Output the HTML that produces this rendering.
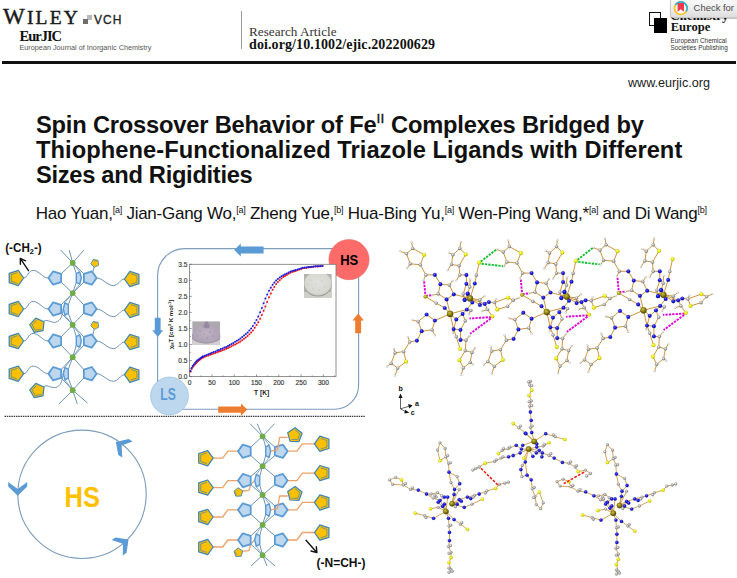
<!DOCTYPE html>
<html lang="en">
<head>
<meta charset="utf-8">
<title>Spin Crossover Behavior of Fe(II) Complexes</title>
<style>
html,body{margin:0;padding:0;background:#fff;}
body{width:737px;height:578px;position:relative;overflow:hidden;font-family:"Liberation Sans",sans-serif;color:#111;}
.abs{position:absolute;white-space:nowrap;line-height:1;}
.serif{font-family:"Liberation Serif",serif;}
#wiley{left:3px;top:4.5px;font-size:19.5px;letter-spacing:2.2px;color:#1a1a1a;-webkit-text-stroke:0.45px #1a1a1a;}
#wiley .w{font-size:23px;}
#sq1{left:87px;top:15px;width:5px;height:5px;background:#b9b9b9;}
#sq2{left:82.5px;top:19px;width:5px;height:5px;background:#6e6e6e;}
#vch{left:94px;top:13.5px;font-size:12px;letter-spacing:1px;color:#222;-webkit-text-stroke:0.3px #222;}
#eurjic{left:19.5px;top:28.5px;font-size:14.5px;letter-spacing:-1.0px;font-weight:bold;color:#111;}
#ejfull{left:19.5px;top:44px;font-size:7.25px;color:#555;}
#rule{left:2px;top:61.2px;width:734px;height:3px;background:#111;}
#vdiv{left:240.5px;top:11px;width:1.3px;height:38px;background:#9a9a9a;}
#ra{left:249px;top:24.5px;font-size:13.2px;color:#333;}
#doi{left:249px;top:38.2px;font-size:14px;letter-spacing:0.1px;font-weight:bold;color:#111;}
#www{left:628px;top:77px;font-size:12.6px;color:#222;}
#title{left:36px;top:112.8px;font-size:23.7px;line-height:25px;font-weight:bold;color:#111;white-space:nowrap;}
#title sup{font-size:13.7px;line-height:0;vertical-align:9.8px;font-weight:normal;-webkit-text-stroke:0.35px #111;letter-spacing:0.3px;}
#authors{left:35.8px;top:204.5px;font-size:17px;letter-spacing:-0.25px;color:#111;}
#authors sup{font-size:9px;line-height:0;vertical-align:6.5px;}

#ce1{left:648.5px;top:12px;width:10.5px;height:12px;border:1.6px solid #111;background:#fff;}
#ce2{left:654px;top:18px;width:12.5px;height:15px;background:#000;}
#chem{left:670.5px;top:9.5px;font-size:12.6px;font-weight:bold;letter-spacing:0.15px;color:#111;}
#europe{left:670.7px;top:21.2px;font-size:12.6px;font-weight:bold;letter-spacing:0px;color:#111;}
#ecs1{left:670.5px;top:37.5px;font-size:6.4px;color:#333;}
#ecs2{left:670.5px;top:44.5px;font-size:6.4px;color:#333;}
#badge{left:670px;top:-2px;width:70px;height:19.8px;background:linear-gradient(#f7f7f7 20%,#dedede);border:1px solid #c9c9c9;border-radius:3px;box-sizing:border-box;box-shadow:0 0.5px 1px rgba(0,0,0,0.25);}
#badgetxt{left:693.6px;top:2.8px;font-size:9.45px;color:#4d4d4d;}
</style>
</head>
<body>
<div class="abs serif" id="wiley"><span class="w">W</span>ILEY</div>
<div class="abs" id="sq1"></div><div class="abs" id="sq2"></div>
<div class="abs" id="vch">VCH</div>
<div class="abs serif" id="eurjic">EurJIC</div>
<div class="abs" id="ejfull">European Journal of Inorganic Chemistry</div>
<div class="abs" id="vdiv"></div>
<div class="abs serif" id="ra">Research Article</div>
<div class="abs serif" id="doi">doi.org/10.1002/ejic.202200629</div>
<div class="abs" id="rule"></div>
<div class="abs" id="www">www.eurjic.org</div>
<div class="abs" id="title"><span style="letter-spacing:-0.2px">Spin Crossover Behavior of Fe<sup>II</sup> Complexes Bridged by</span><br><span style="letter-spacing:0.05px">Thiophene-Functionalized Triazole Ligands with Different</span><br><span style="letter-spacing:-0.3px">Sizes and Rigidities</span></div>
<div class="abs" id="authors">Hao Yuan,<sup>[a]</sup> Jian-Gang Wo,<sup>[a]</sup> Zheng Yue,<sup>[b]</sup> Hua-Bing Yu,<sup>[a]</sup> Wen-Ping Wang,*<sup>[a]</sup> and Di Wang<sup>[b]</sup></div>
<div class="abs" id="ce1"></div><div class="abs" id="ce2"></div>
<div class="abs serif" id="chem">Chemistry</div>
<div class="abs serif" id="europe">Europe</div>
<div class="abs" id="ecs1">European Chemical</div>
<div class="abs" id="ecs2">Societies Publishing</div>
<div class="abs" id="badge"></div>
<svg class="abs" style="left:673px;top:0px" width="16" height="17" viewBox="0 0 16 17"><circle cx="7.8" cy="8.2" r="6.3" fill="#fafafa" stroke="#f6c41f" stroke-width="1.7"/><path d="M2.34 5.05 A6.3 6.3 0 0 1 13.26 11.35" fill="none" stroke="#2fb3dc" stroke-width="1.7"/><path d="M4.6 3 h6.4 v8.8 l-3.2 -2.5 l-3.2 2.5 z" fill="#ee3a4c"/></svg>
<div class="abs" id="badgetxt">Check for</div>
<svg class="abs" style="left:0;top:0" width="737" height="578" viewBox="0 0 737 578">
<line x1="72.7" y1="262.9" x2="60.7" y2="250.0" stroke="#5f88ad" stroke-width="0.9"/>
<line x1="72.7" y1="262.9" x2="69.2" y2="250.0" stroke="#5f88ad" stroke-width="0.9"/>
<line x1="72.7" y1="262.9" x2="83.9" y2="250.0" stroke="#5f88ad" stroke-width="0.9"/>
<line x1="72.7" y1="390.2" x2="59.0" y2="404.0" stroke="#5f88ad" stroke-width="0.9"/>
<line x1="72.7" y1="390.2" x2="77.3" y2="404.0" stroke="#5f88ad" stroke-width="0.9"/>
<line x1="72.7" y1="390.2" x2="87.5" y2="403.0" stroke="#5f88ad" stroke-width="0.9"/>
<line x1="72.7" y1="262.9" x2="61.1" y2="273.9" stroke="#5f88ad" stroke-width="0.9"/>
<line x1="72.7" y1="293.1" x2="61.1" y2="282.1" stroke="#5f88ad" stroke-width="0.9"/>
<line x1="72.7" y1="262.9" x2="83.9" y2="273.9" stroke="#5f88ad" stroke-width="0.9"/>
<line x1="72.7" y1="293.1" x2="83.9" y2="282.1" stroke="#5f88ad" stroke-width="0.9"/>
<line x1="72.7" y1="262.9" x2="76.3" y2="273.7" stroke="#5f88ad" stroke-width="0.9"/>
<line x1="72.7" y1="293.1" x2="76.3" y2="282.3" stroke="#5f88ad" stroke-width="0.9"/>
<line x1="72.7" y1="262.9" x2="79.7" y2="271.8" stroke="#5f88ad" stroke-width="0.7"/>
<line x1="72.7" y1="293.1" x2="79.7" y2="284.2" stroke="#5f88ad" stroke-width="0.7"/>
<path d="M23.7,278.0 C27.7,278.0 28.1,270.4 33.1,270.4 C39.1,270.4 42.4,278.0 48.4,278.0" fill="none" stroke="#5f88ad" stroke-width="0.9"/>
<path d="M96.6,278.0 C102.6,278.0 107.3,285.6 113.3,285.6 C118.3,285.6 120.4,279.0 124.4,279.0" fill="none" stroke="#5f88ad" stroke-width="0.9"/>
<path d="M94.4,266.4 L92.8,272.0" fill="none" stroke="#5f88ad" stroke-width="0.9"/>
<line x1="72.7" y1="293.1" x2="61.1" y2="304.9" stroke="#5f88ad" stroke-width="0.9"/>
<line x1="72.7" y1="324.9" x2="61.1" y2="313.1" stroke="#5f88ad" stroke-width="0.9"/>
<line x1="72.7" y1="293.1" x2="83.9" y2="304.9" stroke="#5f88ad" stroke-width="0.9"/>
<line x1="72.7" y1="324.9" x2="83.9" y2="313.1" stroke="#5f88ad" stroke-width="0.9"/>
<line x1="72.7" y1="293.1" x2="68.3" y2="304.7" stroke="#5f88ad" stroke-width="0.9"/>
<line x1="72.7" y1="324.9" x2="68.3" y2="313.3" stroke="#5f88ad" stroke-width="0.9"/>
<line x1="72.7" y1="293.1" x2="64.9" y2="302.8" stroke="#5f88ad" stroke-width="0.7"/>
<line x1="72.7" y1="324.9" x2="64.9" y2="315.2" stroke="#5f88ad" stroke-width="0.7"/>
<path d="M23.7,309.0 C27.7,309.0 28.1,301.4 33.1,301.4 C39.1,301.4 42.4,309.0 48.4,309.0" fill="none" stroke="#5f88ad" stroke-width="0.9"/>
<path d="M96.6,309.0 C102.6,309.0 107.3,316.6 113.3,316.6 C118.3,316.6 120.4,310.0 124.4,310.0" fill="none" stroke="#5f88ad" stroke-width="0.9"/>
<path d="M43.4,321.3 C48.4,318.5 52.4,324.5 57.4,321.5 S61.7,315.0 63.3,309.0" fill="none" stroke="#5f88ad" stroke-width="0.9"/>
<line x1="72.7" y1="324.9" x2="61.1" y2="336.9" stroke="#5f88ad" stroke-width="0.9"/>
<line x1="72.7" y1="357.2" x2="61.1" y2="345.2" stroke="#5f88ad" stroke-width="0.9"/>
<line x1="72.7" y1="324.9" x2="83.9" y2="336.9" stroke="#5f88ad" stroke-width="0.9"/>
<line x1="72.7" y1="357.2" x2="83.9" y2="345.2" stroke="#5f88ad" stroke-width="0.9"/>
<line x1="72.7" y1="324.9" x2="76.3" y2="336.7" stroke="#5f88ad" stroke-width="0.9"/>
<line x1="72.7" y1="357.2" x2="76.3" y2="345.3" stroke="#5f88ad" stroke-width="0.9"/>
<line x1="72.7" y1="324.9" x2="79.7" y2="334.8" stroke="#5f88ad" stroke-width="0.7"/>
<line x1="72.7" y1="357.2" x2="79.7" y2="347.2" stroke="#5f88ad" stroke-width="0.7"/>
<path d="M23.7,341.0 C27.7,341.0 28.1,333.4 33.1,333.4 C39.1,333.4 42.4,341.0 48.4,341.0" fill="none" stroke="#5f88ad" stroke-width="0.9"/>
<path d="M96.6,341.0 C102.6,341.0 107.3,348.6 113.3,348.6 C118.3,348.6 120.4,342.0 124.4,342.0" fill="none" stroke="#5f88ad" stroke-width="0.9"/>
<path d="M94.4,328.4 L92.8,335.0" fill="none" stroke="#5f88ad" stroke-width="0.9"/>
<line x1="72.7" y1="357.2" x2="61.1" y2="369.6" stroke="#5f88ad" stroke-width="0.9"/>
<line x1="72.7" y1="390.2" x2="61.1" y2="377.8" stroke="#5f88ad" stroke-width="0.9"/>
<line x1="72.7" y1="357.2" x2="83.9" y2="369.6" stroke="#5f88ad" stroke-width="0.9"/>
<line x1="72.7" y1="390.2" x2="83.9" y2="377.8" stroke="#5f88ad" stroke-width="0.9"/>
<line x1="72.7" y1="357.2" x2="68.3" y2="369.4" stroke="#5f88ad" stroke-width="0.9"/>
<line x1="72.7" y1="390.2" x2="68.3" y2="378.0" stroke="#5f88ad" stroke-width="0.9"/>
<line x1="72.7" y1="357.2" x2="64.9" y2="367.5" stroke="#5f88ad" stroke-width="0.7"/>
<line x1="72.7" y1="390.2" x2="64.9" y2="379.9" stroke="#5f88ad" stroke-width="0.7"/>
<path d="M23.7,373.7 C27.7,373.7 28.1,366.1 33.1,366.1 C39.1,366.1 42.4,373.7 48.4,373.7" fill="none" stroke="#5f88ad" stroke-width="0.9"/>
<path d="M96.6,373.7 C102.6,373.7 107.3,381.3 113.3,381.3 C118.3,381.3 120.4,374.7 124.4,374.7" fill="none" stroke="#5f88ad" stroke-width="0.9"/>
<path d="M43.4,386.6 C48.4,383.8 52.4,389.8 57.4,386.8 S61.7,379.7 63.3,373.7" fill="none" stroke="#5f88ad" stroke-width="0.9"/>
<polygon points="94.3,267.3 90.8,263.8 93.2,259.4 98.0,260.3 98.7,265.2" fill="#ffc000" stroke="#3d85b8" stroke-width="0.8" stroke-linejoin="round"/><polyline points="93.7,260.6 97.1,261.2" fill="none" stroke="#3d85b8" stroke-width="0.5"/>
<polygon points="48.4,278.0 53.2,271.3 61.1,273.9 61.1,282.1 53.2,284.7" fill="#bdd7ee" stroke="#5b9bd5" stroke-width="1.8" stroke-linejoin="round"/>
<polygon points="96.6,278.0 91.8,284.7 83.9,282.1 83.9,273.9 91.8,271.3" fill="#bdd7ee" stroke="#5b9bd5" stroke-width="1.8" stroke-linejoin="round"/>
<polygon points="76.3,273.7 79.7,271.8 81.3,278.0 79.7,284.2 76.3,282.3" fill="#bdd7ee" stroke="#5b9bd5" stroke-width="1.45" stroke-linejoin="round"/>
<polygon points="23.7,278.0 18.2,285.6 9.2,282.7 9.2,273.3 18.2,270.4" fill="#ffc000" stroke="#3d85b8" stroke-width="1.25" stroke-linejoin="round"/><polyline points="17.4,283.3 11.2,281.3 11.2,274.7 17.4,272.7" fill="none" stroke="#3d85b8" stroke-width="0.7"/>
<polygon points="124.4,279.0 129.9,271.4 138.9,274.3 138.9,283.7 129.9,286.6" fill="#ffc000" stroke="#3d85b8" stroke-width="1.25" stroke-linejoin="round"/><polyline points="130.7,273.7 136.9,275.7 136.9,282.3 130.7,284.3" fill="none" stroke="#3d85b8" stroke-width="0.7"/>
<polygon points="44.0,321.7 43.0,330.6 34.3,332.4 29.8,324.7 35.8,318.1" fill="#ffc000" stroke="#3d85b8" stroke-width="1.25" stroke-linejoin="round"/><polyline points="41.4,329.1 35.2,330.4 32.1,324.9 36.3,320.3" fill="none" stroke="#3d85b8" stroke-width="0.7"/>
<polygon points="48.4,309.0 53.2,302.3 61.1,304.9 61.1,313.1 53.2,315.7" fill="#bdd7ee" stroke="#5b9bd5" stroke-width="1.8" stroke-linejoin="round"/>
<polygon points="96.6,309.0 91.8,315.7 83.9,313.1 83.9,304.9 91.8,302.3" fill="#bdd7ee" stroke="#5b9bd5" stroke-width="1.8" stroke-linejoin="round"/>
<polygon points="68.3,304.7 64.9,302.8 63.3,309.0 64.9,315.2 68.3,313.3" fill="#bdd7ee" stroke="#5b9bd5" stroke-width="1.45" stroke-linejoin="round"/>
<polygon points="23.7,309.0 18.2,316.6 9.2,313.7 9.2,304.3 18.2,301.4" fill="#ffc000" stroke="#3d85b8" stroke-width="1.25" stroke-linejoin="round"/><polyline points="17.4,314.3 11.2,312.3 11.2,305.7 17.4,303.7" fill="none" stroke="#3d85b8" stroke-width="0.7"/>
<polygon points="124.4,310.0 129.9,302.4 138.9,305.3 138.9,314.7 129.9,317.6" fill="#ffc000" stroke="#3d85b8" stroke-width="1.25" stroke-linejoin="round"/><polyline points="130.7,304.7 136.9,306.7 136.9,313.3 130.7,315.3" fill="none" stroke="#3d85b8" stroke-width="0.7"/>
<polygon points="94.3,329.3 90.8,325.8 93.2,321.4 98.0,322.3 98.7,327.2" fill="#ffc000" stroke="#3d85b8" stroke-width="0.8" stroke-linejoin="round"/><polyline points="93.7,322.6 97.1,323.2" fill="none" stroke="#3d85b8" stroke-width="0.5"/>
<polygon points="48.4,341.0 53.2,334.4 61.1,336.9 61.1,345.2 53.2,347.7" fill="#bdd7ee" stroke="#5b9bd5" stroke-width="1.8" stroke-linejoin="round"/>
<polygon points="96.6,341.0 91.8,347.7 83.9,345.2 83.9,336.9 91.8,334.4" fill="#bdd7ee" stroke="#5b9bd5" stroke-width="1.8" stroke-linejoin="round"/>
<polygon points="76.3,336.7 79.7,334.8 81.3,341.0 79.7,347.2 76.3,345.3" fill="#bdd7ee" stroke="#5b9bd5" stroke-width="1.45" stroke-linejoin="round"/>
<polygon points="23.7,341.0 18.2,348.7 9.2,345.8 9.2,336.3 18.2,333.4" fill="#ffc000" stroke="#3d85b8" stroke-width="1.25" stroke-linejoin="round"/><polyline points="17.4,346.4 11.2,344.3 11.2,337.8 17.4,335.7" fill="none" stroke="#3d85b8" stroke-width="0.7"/>
<polygon points="124.4,342.0 129.9,334.4 138.9,337.3 138.9,346.8 129.9,349.7" fill="#ffc000" stroke="#3d85b8" stroke-width="1.25" stroke-linejoin="round"/><polyline points="130.7,336.7 136.9,338.8 136.9,345.3 130.7,347.4" fill="none" stroke="#3d85b8" stroke-width="0.7"/>
<polygon points="44.0,387.0 43.0,395.9 34.3,397.7 29.8,390.0 35.8,383.4" fill="#ffc000" stroke="#3d85b8" stroke-width="1.25" stroke-linejoin="round"/><polyline points="41.4,394.4 35.2,395.7 32.1,390.2 36.3,385.6" fill="none" stroke="#3d85b8" stroke-width="0.7"/>
<polygon points="48.4,373.7 53.2,367.0 61.1,369.6 61.1,377.8 53.2,380.4" fill="#bdd7ee" stroke="#5b9bd5" stroke-width="1.8" stroke-linejoin="round"/>
<polygon points="96.6,373.7 91.8,380.4 83.9,377.8 83.9,369.6 91.8,367.0" fill="#bdd7ee" stroke="#5b9bd5" stroke-width="1.8" stroke-linejoin="round"/>
<polygon points="68.3,369.4 64.9,367.5 63.3,373.7 64.9,379.9 68.3,378.0" fill="#bdd7ee" stroke="#5b9bd5" stroke-width="1.45" stroke-linejoin="round"/>
<polygon points="23.7,373.7 18.2,381.3 9.2,378.4 9.2,369.0 18.2,366.1" fill="#ffc000" stroke="#3d85b8" stroke-width="1.25" stroke-linejoin="round"/><polyline points="17.4,379.0 11.2,377.0 11.2,370.4 17.4,368.4" fill="none" stroke="#3d85b8" stroke-width="0.7"/>
<polygon points="124.4,374.7 129.9,367.1 138.9,370.0 138.9,379.4 129.9,382.3" fill="#ffc000" stroke="#3d85b8" stroke-width="1.25" stroke-linejoin="round"/><polyline points="130.7,369.4 136.9,371.4 136.9,378.0 130.7,380.0" fill="none" stroke="#3d85b8" stroke-width="0.7"/>
<circle cx="72.7" cy="262.9" r="2.9" fill="#70ad47"/>
<circle cx="72.7" cy="293.1" r="2.9" fill="#70ad47"/>
<circle cx="72.7" cy="324.9" r="2.9" fill="#70ad47"/>
<circle cx="72.7" cy="357.2" r="2.9" fill="#70ad47"/>
<circle cx="72.7" cy="390.2" r="2.9" fill="#70ad47"/>
<text x="5.2" y="251.6" font-family="Liberation Sans, sans-serif" font-size="12.6" font-weight="bold" fill="#111" textLength="36.5" lengthAdjust="spacingAndGlyphs">(-CH<tspan font-size="8" dy="2.5">2</tspan><tspan dy="-2.5">-)</tspan></text>
<path d="M28.5 270.7 L20.6 258.9 M25.6 260.8 L20.3 258.4 L20.4 264.2" stroke="#111" stroke-width="1.4" fill="none" stroke-linecap="round" stroke-linejoin="round"/>
<line x1="262.6" y1="436.3" x2="250.0" y2="423.7" stroke="#5f88ad" stroke-width="0.9"/>
<line x1="262.6" y1="436.3" x2="257.2" y2="423.7" stroke="#5f88ad" stroke-width="0.9"/>
<line x1="262.6" y1="436.3" x2="274.5" y2="423.7" stroke="#5f88ad" stroke-width="0.9"/>
<line x1="262.6" y1="555.2" x2="251.0" y2="566.0" stroke="#5f88ad" stroke-width="0.9"/>
<line x1="262.6" y1="555.2" x2="267.0" y2="566.0" stroke="#5f88ad" stroke-width="0.9"/>
<line x1="262.6" y1="555.2" x2="275.0" y2="566.0" stroke="#5f88ad" stroke-width="0.9"/>
<line x1="262.6" y1="436.3" x2="250.7" y2="447.1" stroke="#5f88ad" stroke-width="0.9"/>
<line x1="262.6" y1="466.2" x2="250.7" y2="455.4" stroke="#5f88ad" stroke-width="0.9"/>
<line x1="262.6" y1="436.3" x2="274.9" y2="447.1" stroke="#5f88ad" stroke-width="0.9"/>
<line x1="262.6" y1="466.2" x2="274.9" y2="455.4" stroke="#5f88ad" stroke-width="0.9"/>
<line x1="262.6" y1="436.3" x2="265.7" y2="446.9" stroke="#5f88ad" stroke-width="0.9"/>
<line x1="262.6" y1="466.2" x2="265.7" y2="455.6" stroke="#5f88ad" stroke-width="0.9"/>
<line x1="262.6" y1="436.3" x2="269.1" y2="445.1" stroke="#5f88ad" stroke-width="0.7"/>
<line x1="262.6" y1="466.2" x2="269.1" y2="457.4" stroke="#5f88ad" stroke-width="0.7"/>
<polyline points="213.2,458.2 222.7,458.2 227.8,451.2 238.0,451.2" fill="none" stroke="#eda268" stroke-width="1.3" stroke-linejoin="round"/>
<polyline points="287.6,451.2 296.9,451.2 302.4,443.8 314.4,443.8" fill="none" stroke="#eda268" stroke-width="1.3" stroke-linejoin="round"/>
<line x1="262.6" y1="466.2" x2="250.7" y2="476.5" stroke="#5f88ad" stroke-width="0.9"/>
<line x1="262.6" y1="495.0" x2="250.7" y2="484.7" stroke="#5f88ad" stroke-width="0.9"/>
<line x1="262.6" y1="466.2" x2="274.9" y2="476.5" stroke="#5f88ad" stroke-width="0.9"/>
<line x1="262.6" y1="495.0" x2="274.9" y2="484.7" stroke="#5f88ad" stroke-width="0.9"/>
<line x1="262.6" y1="466.2" x2="259.7" y2="476.3" stroke="#5f88ad" stroke-width="0.9"/>
<line x1="262.6" y1="495.0" x2="259.7" y2="484.9" stroke="#5f88ad" stroke-width="0.9"/>
<line x1="262.6" y1="466.2" x2="256.3" y2="474.4" stroke="#5f88ad" stroke-width="0.7"/>
<line x1="262.6" y1="495.0" x2="256.3" y2="486.8" stroke="#5f88ad" stroke-width="0.7"/>
<polyline points="213.2,487.6 222.7,487.6 227.8,480.6 238.0,480.6" fill="none" stroke="#eda268" stroke-width="1.3" stroke-linejoin="round"/>
<polyline points="287.6,480.6 296.9,480.6 302.4,473.1 314.4,473.1" fill="none" stroke="#eda268" stroke-width="1.3" stroke-linejoin="round"/>
<polyline points="242.9,491.0 249.0,490.4 250.7,484.6 254.7,480.6" fill="none" stroke="#eda268" stroke-width="1.3" stroke-linejoin="round"/>
<line x1="262.6" y1="495.0" x2="250.7" y2="505.8" stroke="#5f88ad" stroke-width="0.9"/>
<line x1="262.6" y1="524.9" x2="250.7" y2="514.1" stroke="#5f88ad" stroke-width="0.9"/>
<line x1="262.6" y1="495.0" x2="274.9" y2="505.8" stroke="#5f88ad" stroke-width="0.9"/>
<line x1="262.6" y1="524.9" x2="274.9" y2="514.1" stroke="#5f88ad" stroke-width="0.9"/>
<line x1="262.6" y1="495.0" x2="265.7" y2="505.6" stroke="#5f88ad" stroke-width="0.9"/>
<line x1="262.6" y1="524.9" x2="265.7" y2="514.2" stroke="#5f88ad" stroke-width="0.9"/>
<line x1="262.6" y1="495.0" x2="269.1" y2="503.8" stroke="#5f88ad" stroke-width="0.7"/>
<line x1="262.6" y1="524.9" x2="269.1" y2="516.1" stroke="#5f88ad" stroke-width="0.7"/>
<polyline points="213.2,517.0 222.7,517.0 227.8,509.9 238.0,509.9" fill="none" stroke="#eda268" stroke-width="1.3" stroke-linejoin="round"/>
<polyline points="287.6,509.9 296.9,509.9 302.4,502.4 314.4,502.4" fill="none" stroke="#eda268" stroke-width="1.3" stroke-linejoin="round"/>
<line x1="262.6" y1="524.9" x2="250.7" y2="535.9" stroke="#5f88ad" stroke-width="0.9"/>
<line x1="262.6" y1="555.2" x2="250.7" y2="544.2" stroke="#5f88ad" stroke-width="0.9"/>
<line x1="262.6" y1="524.9" x2="274.9" y2="535.9" stroke="#5f88ad" stroke-width="0.9"/>
<line x1="262.6" y1="555.2" x2="274.9" y2="544.2" stroke="#5f88ad" stroke-width="0.9"/>
<line x1="262.6" y1="524.9" x2="259.7" y2="535.8" stroke="#5f88ad" stroke-width="0.9"/>
<line x1="262.6" y1="555.2" x2="259.7" y2="544.3" stroke="#5f88ad" stroke-width="0.9"/>
<line x1="262.6" y1="524.9" x2="256.3" y2="533.8" stroke="#5f88ad" stroke-width="0.7"/>
<line x1="262.6" y1="555.2" x2="256.3" y2="546.2" stroke="#5f88ad" stroke-width="0.7"/>
<polyline points="213.2,547.0 222.7,547.0 227.8,540.0 238.0,540.0" fill="none" stroke="#eda268" stroke-width="1.3" stroke-linejoin="round"/>
<polyline points="287.6,540.0 296.9,540.0 302.4,532.5 314.4,532.5" fill="none" stroke="#eda268" stroke-width="1.3" stroke-linejoin="round"/>
<polyline points="242.9,551.2 249.0,550.6 250.7,544.0 254.7,540.0" fill="none" stroke="#eda268" stroke-width="1.3" stroke-linejoin="round"/>
<polygon points="238.0,451.2 242.8,444.6 250.7,447.1 250.7,455.4 242.8,457.9" fill="#bdd7ee" stroke="#5b9bd5" stroke-width="1.8" stroke-linejoin="round"/>
<polygon points="287.6,451.2 282.8,457.9 274.9,455.4 274.9,447.1 282.8,444.6" fill="#bdd7ee" stroke="#5b9bd5" stroke-width="1.8" stroke-linejoin="round"/>
<polygon points="265.7,446.9 269.1,445.1 270.7,451.2 269.1,457.4 265.7,455.6" fill="#bdd7ee" stroke="#5b9bd5" stroke-width="1.45" stroke-linejoin="round"/>
<polygon points="213.2,458.2 207.7,465.9 198.7,463.0 198.7,453.5 207.7,450.6" fill="#ffc000" stroke="#3d85b8" stroke-width="1.25" stroke-linejoin="round"/><polyline points="206.9,463.6 200.7,461.5 200.7,455.0 206.9,452.9" fill="none" stroke="#3d85b8" stroke-width="0.7"/>
<polygon points="314.4,443.8 319.9,436.1 328.9,439.0 328.9,448.5 319.9,451.4" fill="#ffc000" stroke="#3d85b8" stroke-width="1.25" stroke-linejoin="round"/><polyline points="320.7,438.4 326.9,440.5 326.9,447.0 320.7,449.1" fill="none" stroke="#3d85b8" stroke-width="0.7"/>
<polygon points="242.7,490.8 241.2,496.0 235.8,496.2 234.0,491.1 238.2,487.8" fill="#ffc000" stroke="#3d85b8" stroke-width="0.9" stroke-linejoin="round"/><polyline points="236.6,495.1 235.3,491.5" fill="none" stroke="#3d85b8" stroke-width="0.5"/>
<polygon points="238.0,480.6 242.8,473.9 250.7,476.5 250.7,484.7 242.8,487.3" fill="#bdd7ee" stroke="#5b9bd5" stroke-width="1.8" stroke-linejoin="round"/>
<polygon points="287.6,480.6 282.8,487.3 274.9,484.7 274.9,476.5 282.8,473.9" fill="#bdd7ee" stroke="#5b9bd5" stroke-width="1.8" stroke-linejoin="round"/>
<polygon points="259.7,476.3 256.3,474.4 254.7,480.6 256.3,486.8 259.7,484.9" fill="#bdd7ee" stroke="#5b9bd5" stroke-width="1.45" stroke-linejoin="round"/>
<polygon points="213.2,487.6 207.7,495.2 198.7,492.3 198.7,482.9 207.7,480.0" fill="#ffc000" stroke="#3d85b8" stroke-width="1.25" stroke-linejoin="round"/><polyline points="206.9,492.9 200.7,490.9 200.7,484.3 206.9,482.3" fill="none" stroke="#3d85b8" stroke-width="0.7"/>
<polygon points="314.4,473.1 319.9,465.5 328.9,468.4 328.9,477.8 319.9,480.7" fill="#ffc000" stroke="#3d85b8" stroke-width="1.25" stroke-linejoin="round"/><polyline points="320.7,467.8 326.9,469.8 326.9,476.4 320.7,478.4" fill="none" stroke="#3d85b8" stroke-width="0.7"/>
<polygon points="238.0,509.9 242.8,503.3 250.7,505.8 250.7,514.1 242.8,516.6" fill="#bdd7ee" stroke="#5b9bd5" stroke-width="1.8" stroke-linejoin="round"/>
<polygon points="287.6,509.9 282.8,516.6 274.9,514.1 274.9,505.8 282.8,503.3" fill="#bdd7ee" stroke="#5b9bd5" stroke-width="1.8" stroke-linejoin="round"/>
<polygon points="265.7,505.6 269.1,503.8 270.7,509.9 269.1,516.1 265.7,514.2" fill="#bdd7ee" stroke="#5b9bd5" stroke-width="1.45" stroke-linejoin="round"/>
<polygon points="213.2,517.0 207.7,524.6 198.7,521.7 198.7,512.2 207.7,509.3" fill="#ffc000" stroke="#3d85b8" stroke-width="1.25" stroke-linejoin="round"/><polyline points="206.9,522.3 200.7,520.2 200.7,513.7 206.9,511.6" fill="none" stroke="#3d85b8" stroke-width="0.7"/>
<polygon points="314.4,502.4 319.9,494.8 328.9,497.7 328.9,507.2 319.9,510.1" fill="#ffc000" stroke="#3d85b8" stroke-width="1.25" stroke-linejoin="round"/><polyline points="320.7,497.1 326.9,499.2 326.9,505.7 320.7,507.8" fill="none" stroke="#3d85b8" stroke-width="0.7"/>
<polygon points="242.7,551.0 241.2,556.2 235.8,556.4 234.0,551.3 238.2,548.0" fill="#ffc000" stroke="#3d85b8" stroke-width="0.9" stroke-linejoin="round"/><polyline points="236.6,555.3 235.3,551.7" fill="none" stroke="#3d85b8" stroke-width="0.5"/>
<polygon points="238.0,540.0 242.8,533.4 250.7,535.9 250.7,544.2 242.8,546.7" fill="#bdd7ee" stroke="#5b9bd5" stroke-width="1.8" stroke-linejoin="round"/>
<polygon points="287.6,540.0 282.8,546.7 274.9,544.2 274.9,535.9 282.8,533.4" fill="#bdd7ee" stroke="#5b9bd5" stroke-width="1.8" stroke-linejoin="round"/>
<polygon points="259.7,535.8 256.3,533.8 254.7,540.0 256.3,546.2 259.7,544.3" fill="#bdd7ee" stroke="#5b9bd5" stroke-width="1.45" stroke-linejoin="round"/>
<polygon points="213.2,547.0 207.7,554.7 198.7,551.8 198.7,542.3 207.7,539.4" fill="#ffc000" stroke="#3d85b8" stroke-width="1.25" stroke-linejoin="round"/><polyline points="206.9,552.4 200.7,550.3 200.7,543.8 206.9,541.7" fill="none" stroke="#3d85b8" stroke-width="0.7"/>
<polygon points="314.4,532.5 319.9,524.9 328.9,527.8 328.9,537.3 319.9,540.2" fill="#ffc000" stroke="#3d85b8" stroke-width="1.25" stroke-linejoin="round"/><polyline points="320.7,527.2 326.9,529.3 326.9,535.8 320.7,537.9" fill="none" stroke="#3d85b8" stroke-width="0.7"/>
<circle cx="262.6" cy="436.3" r="2.9" fill="#70ad47"/>
<circle cx="262.6" cy="466.2" r="2.9" fill="#70ad47"/>
<circle cx="262.6" cy="495.0" r="2.9" fill="#70ad47"/>
<circle cx="262.6" cy="524.9" r="2.9" fill="#70ad47"/>
<circle cx="262.6" cy="555.2" r="2.9" fill="#70ad47"/>
<polyline points="287.8,437.3 279.6,437.3 277.5,449.8 270.7,451.2" fill="none" stroke="#eda268" stroke-width="1.3" stroke-linejoin="round"/>
<polygon points="287.7,432.7 295.1,427.7 302.1,433.2 299.0,441.6 290.1,441.3" fill="#ffc000" stroke="#3d85b8" stroke-width="1.25" stroke-linejoin="round"/><polyline points="295.0,430.0 299.9,433.8 297.8,439.7 291.5,439.5" fill="none" stroke="#3d85b8" stroke-width="0.7"/>
<polyline points="287.8,496.0 279.6,496.0 277.5,508.4 270.7,509.9" fill="none" stroke="#eda268" stroke-width="1.3" stroke-linejoin="round"/>
<polygon points="287.7,491.4 295.1,486.4 302.1,491.9 299.0,500.3 290.1,500.0" fill="#ffc000" stroke="#3d85b8" stroke-width="1.25" stroke-linejoin="round"/><polyline points="295.0,488.7 299.9,492.5 297.8,498.4 291.5,498.2" fill="none" stroke="#3d85b8" stroke-width="0.7"/>
<text x="316.5" y="567.3" font-family="Liberation Sans, sans-serif" font-size="12.6" font-weight="bold" fill="#111" textLength="49" lengthAdjust="spacingAndGlyphs">(-N=CH-)</text>
<path d="M306 540.3 L316.6 552.2 M311 551 L316.9 552.6 L316.3 546.6" stroke="#111" stroke-width="1.4" fill="none" stroke-linecap="round" stroke-linejoin="round"/>
<line x1="4.5" y1="416.4" x2="365.4" y2="416.4" stroke="#3a3a3a" stroke-width="1.2" stroke-dasharray="1.5 0.8"/>
<path d="M184.6 248.6 H334.6 A24 24 0 0 1 358.6 272.6 V385.2 A24 24 0 0 1 334.6 409.2 H181.6 A24 24 0 0 1 157.6 385.2 V275.6 A27 27 0 0 1 184.6 248.6 Z" fill="none" stroke="#7c9cbb" stroke-width="1.1"/>
<path d="M234.2 250 L240.8 243.5 L240.8 246.6 L263.6 246.6 L263.6 253.5 L240.8 253.5 L240.8 256.5 Z" fill="#5b9bd5"/>
<path d="M157.7 336.9 L152.3 330.2 L154.8 330.2 L154.8 317.8 L160.6 317.8 L160.6 330.2 L163.2 330.2 Z" fill="#5b9bd5"/>
<path d="M358.2 313.6 L352.5 320.4 L355.2 320.4 L355.2 333.2 L361.1 333.2 L361.1 320.4 L363.9 320.4 Z" fill="#ed7d31"/>
<path d="M247.3 409.6 L241 403.6 L241 406.5 L218.2 406.5 L218.2 412.7 L241 412.7 L241 415.7 Z" fill="#ed7d31"/>
<circle cx="82" cy="494.3" r="64.2" fill="none" stroke="#7c9cbb" stroke-width="1.1"/>
<polygon points="17.7,495.8 27.2,486.6 27.2,481.9 17.7,488.9 8.2,481.9 8.2,486.6" fill="#5b9bd5"/>
<polygon points="115.8,441.9 118.3,454.9 122.3,457.4 121.6,445.6 132.6,441.5 128.7,438.9" fill="#5b9bd5"/>
<polygon points="128.5,539.6 115.5,537.4 111.7,540.1 122.9,543.7 122.8,555.5 126.6,552.7" fill="#5b9bd5"/>
<text x="82.3" y="507" font-family="Liberation Sans, sans-serif" font-weight="bold" font-size="30" fill="#ffc000" text-anchor="middle" textLength="35.5" lengthAdjust="spacingAndGlyphs">HS</text>
<circle cx="349" cy="259.6" r="20.1" fill="#ff6b68" stroke="#e36a68" stroke-width="0.6"/>
<text x="349.2" y="264.6" font-family="Liberation Sans, sans-serif" font-weight="bold" font-size="15.4" fill="#000" text-anchor="middle" textLength="18" lengthAdjust="spacingAndGlyphs">HS</text>
<circle cx="169.5" cy="396" r="18.9" fill="#bdd7ee" stroke="#a3c4e4" stroke-width="0.8"/>
<text x="168" y="400.2" font-family="Liberation Sans, sans-serif" font-weight="bold" font-size="16.6" fill="#5b9bd5" text-anchor="middle" textLength="15.6" lengthAdjust="spacingAndGlyphs">LS</text>
<rect x="189.6" y="264.3" width="146.4" height="112.30000000000001" fill="#fff" stroke="#777" stroke-width="0.8"/>
<line x1="189.6" y1="376.60" x2="191.79999999999998" y2="376.60" stroke="#555" stroke-width="0.6"/>
<text x="187.4" y="378.90" font-family="Liberation Sans, sans-serif" font-size="6.6" fill="#333" text-anchor="end" stroke="#333" stroke-width="0.15">0.0</text>
<line x1="189.6" y1="368.58" x2="190.9" y2="368.58" stroke="#555" stroke-width="0.5"/>
<line x1="189.6" y1="360.56" x2="191.79999999999998" y2="360.56" stroke="#555" stroke-width="0.6"/>
<text x="187.4" y="362.86" font-family="Liberation Sans, sans-serif" font-size="6.6" fill="#333" text-anchor="end" stroke="#333" stroke-width="0.15">0.5</text>
<line x1="189.6" y1="352.54" x2="190.9" y2="352.54" stroke="#555" stroke-width="0.5"/>
<line x1="189.6" y1="344.51" x2="191.79999999999998" y2="344.51" stroke="#555" stroke-width="0.6"/>
<text x="187.4" y="346.81" font-family="Liberation Sans, sans-serif" font-size="6.6" fill="#333" text-anchor="end" stroke="#333" stroke-width="0.15">1.0</text>
<line x1="189.6" y1="336.49" x2="190.9" y2="336.49" stroke="#555" stroke-width="0.5"/>
<line x1="189.6" y1="328.47" x2="191.79999999999998" y2="328.47" stroke="#555" stroke-width="0.6"/>
<text x="187.4" y="330.77" font-family="Liberation Sans, sans-serif" font-size="6.6" fill="#333" text-anchor="end" stroke="#333" stroke-width="0.15">1.5</text>
<line x1="189.6" y1="320.45" x2="190.9" y2="320.45" stroke="#555" stroke-width="0.5"/>
<line x1="189.6" y1="312.43" x2="191.79999999999998" y2="312.43" stroke="#555" stroke-width="0.6"/>
<text x="187.4" y="314.73" font-family="Liberation Sans, sans-serif" font-size="6.6" fill="#333" text-anchor="end" stroke="#333" stroke-width="0.15">2.0</text>
<line x1="189.6" y1="304.41" x2="190.9" y2="304.41" stroke="#555" stroke-width="0.5"/>
<line x1="189.6" y1="296.39" x2="191.79999999999998" y2="296.39" stroke="#555" stroke-width="0.6"/>
<text x="187.4" y="298.69" font-family="Liberation Sans, sans-serif" font-size="6.6" fill="#333" text-anchor="end" stroke="#333" stroke-width="0.15">2.5</text>
<line x1="189.6" y1="288.36" x2="190.9" y2="288.36" stroke="#555" stroke-width="0.5"/>
<line x1="189.6" y1="280.34" x2="191.79999999999998" y2="280.34" stroke="#555" stroke-width="0.6"/>
<text x="187.4" y="282.64" font-family="Liberation Sans, sans-serif" font-size="6.6" fill="#333" text-anchor="end" stroke="#333" stroke-width="0.15">3.0</text>
<line x1="189.6" y1="272.32" x2="190.9" y2="272.32" stroke="#555" stroke-width="0.5"/>
<line x1="189.6" y1="264.30" x2="191.79999999999998" y2="264.30" stroke="#555" stroke-width="0.6"/>
<text x="187.4" y="266.60" font-family="Liberation Sans, sans-serif" font-size="6.6" fill="#333" text-anchor="end" stroke="#333" stroke-width="0.15">3.5</text>
<line x1="189.60" y1="376.6" x2="189.60" y2="374.40000000000003" stroke="#555" stroke-width="0.6"/>
<text x="189.60" y="384.90000000000003" font-family="Liberation Sans, sans-serif" font-size="6.6" fill="#333" text-anchor="middle" stroke="#333" stroke-width="0.15">0</text>
<line x1="200.75" y1="376.6" x2="200.75" y2="375.3" stroke="#555" stroke-width="0.5"/>
<line x1="211.90" y1="376.6" x2="211.90" y2="374.40000000000003" stroke="#555" stroke-width="0.6"/>
<text x="211.90" y="384.90000000000003" font-family="Liberation Sans, sans-serif" font-size="6.6" fill="#333" text-anchor="middle" stroke="#333" stroke-width="0.15">50</text>
<line x1="223.05" y1="376.6" x2="223.05" y2="375.3" stroke="#555" stroke-width="0.5"/>
<line x1="234.20" y1="376.6" x2="234.20" y2="374.40000000000003" stroke="#555" stroke-width="0.6"/>
<text x="234.20" y="384.90000000000003" font-family="Liberation Sans, sans-serif" font-size="6.6" fill="#333" text-anchor="middle" stroke="#333" stroke-width="0.15">100</text>
<line x1="245.35" y1="376.6" x2="245.35" y2="375.3" stroke="#555" stroke-width="0.5"/>
<line x1="256.50" y1="376.6" x2="256.50" y2="374.40000000000003" stroke="#555" stroke-width="0.6"/>
<text x="256.50" y="384.90000000000003" font-family="Liberation Sans, sans-serif" font-size="6.6" fill="#333" text-anchor="middle" stroke="#333" stroke-width="0.15">150</text>
<line x1="267.65" y1="376.6" x2="267.65" y2="375.3" stroke="#555" stroke-width="0.5"/>
<line x1="278.80" y1="376.6" x2="278.80" y2="374.40000000000003" stroke="#555" stroke-width="0.6"/>
<text x="278.80" y="384.90000000000003" font-family="Liberation Sans, sans-serif" font-size="6.6" fill="#333" text-anchor="middle" stroke="#333" stroke-width="0.15">200</text>
<line x1="289.95" y1="376.6" x2="289.95" y2="375.3" stroke="#555" stroke-width="0.5"/>
<line x1="301.10" y1="376.6" x2="301.10" y2="374.40000000000003" stroke="#555" stroke-width="0.6"/>
<text x="301.10" y="384.90000000000003" font-family="Liberation Sans, sans-serif" font-size="6.6" fill="#333" text-anchor="middle" stroke="#333" stroke-width="0.15">250</text>
<line x1="312.25" y1="376.6" x2="312.25" y2="375.3" stroke="#555" stroke-width="0.5"/>
<line x1="323.40" y1="376.6" x2="323.40" y2="374.40000000000003" stroke="#555" stroke-width="0.6"/>
<text x="323.40" y="384.90000000000003" font-family="Liberation Sans, sans-serif" font-size="6.6" fill="#333" text-anchor="middle" stroke="#333" stroke-width="0.15">300</text>
<line x1="334.55" y1="376.6" x2="334.55" y2="375.3" stroke="#555" stroke-width="0.5"/>
<text x="261.6" y="394.6" font-family="Liberation Sans, sans-serif" font-size="6.6" font-weight="bold" fill="#222" text-anchor="middle">T [K]</text>
<text transform="translate(173.3,324.5) rotate(-90)" font-family="Liberation Sans, sans-serif" font-size="6.1" font-weight="bold" fill="#222" text-anchor="middle">χ<tspan font-size="4" dy="1">M</tspan><tspan dy="-1">T [cm</tspan><tspan font-size="4" dy="-2">3</tspan><tspan dy="2"> K mol</tspan><tspan font-size="4" dy="-2">-1</tspan><tspan dy="2">]</tspan></text>
<defs><radialGradient id="ph1" cx="50%" cy="55%" r="60%"><stop offset="0" stop-color="#bdb3c2"/><stop offset="0.7" stop-color="#b0a4b6"/><stop offset="1" stop-color="#a296a8"/></radialGradient><radialGradient id="ph2" cx="50%" cy="45%" r="60%"><stop offset="0" stop-color="#e0e0dc"/><stop offset="0.75" stop-color="#d8d8d3"/><stop offset="1" stop-color="#c6c6c0"/></radialGradient></defs>
<clipPath id="cp1"><rect x="192.2" y="321.2" width="28" height="23.7"/></clipPath><clipPath id="cp2"><rect x="304" y="273.9" width="27.8" height="23.8"/></clipPath>
<g clip-path="url(#cp1)"><rect x="192.2" y="321.2" width="28" height="23.7" fill="#aca8ae"/><rect x="192.2" y="340" width="28" height="5" fill="#d2cfd3"/><ellipse cx="206.2" cy="336.5" rx="14.6" ry="7.2" fill="#9d95a2"/><path d="M191.8 337 Q193 327.5 202.5 325.6 Q205.2 321 206.8 321.4 Q208.3 321.6 210.5 325.2 Q219.5 327.5 220.8 337 Q218 342.3 206.2 342.6 Q194 342.3 191.8 337 Z" fill="url(#ph1)"/><path d="M203 327 Q205.5 321.5 206.8 321.6 Q208 322 210 327 Q206.5 329.5 203 327 Z" fill="#8e7c99" opacity="0.75"/><g fill="#8e7c99" opacity="0.5"><circle cx="200" cy="331" r="0.8"/><circle cx="204" cy="334" r="0.7"/><circle cx="210" cy="332" r="0.8"/><circle cx="213" cy="336" r="0.7"/><circle cx="197" cy="336" r="0.7"/><circle cx="207" cy="338" r="0.8"/><circle cx="215" cy="331" r="0.6"/><circle cx="202" cy="339" r="0.6"/></g></g>
<g clip-path="url(#cp2)"><rect x="304" y="273.9" width="27.8" height="23.8" fill="#b3b3ad"/><rect x="304" y="292" width="27.8" height="6" fill="#cfcfca"/><ellipse cx="317.9" cy="284.6" rx="13.9" ry="12" fill="#9b9b95"/><ellipse cx="317.9" cy="283.6" rx="13.7" ry="11.8" fill="url(#ph2)"/><g fill="#bdbdb6" opacity="0.6"><circle cx="311" cy="280" r="0.7"/><circle cx="316" cy="284" r="0.7"/><circle cx="322" cy="281" r="0.7"/><circle cx="325" cy="287" r="0.7"/><circle cx="313" cy="289" r="0.7"/><circle cx="319" cy="290" r="0.7"/><circle cx="308" cy="285" r="0.6"/><circle cx="320" cy="277" r="0.6"/></g></g>
<polyline points="190.5,371.7 191.6,369.1 192.7,367.2 193.8,365.7 195.0,364.5 196.1,363.2 197.2,362.0 198.3,361.0 199.4,360.1 200.5,359.2 201.6,358.3 202.8,357.5 203.0,357.4 204.8,356.8 206.5,356.1 208.3,355.5 210.1,354.8 211.9,354.2 213.7,353.5 215.5,352.9 217.3,352.2 219.0,351.5 220.8,350.9 222.6,350.2 224.4,349.5 226.2,348.8 228.0,348.1 229.7,347.2 231.5,346.3 233.3,345.3 235.1,344.4 236.9,343.5 238.7,342.5 240.4,341.6 242.2,340.2 244.0,338.8 245.8,337.5 247.6,336.1 249.4,334.3 251.1,332.4 252.9,330.4 254.7,327.7 256.5,325.1 258.3,322.2 260.1,318.7 261.9,315.1 263.6,310.8 265.4,306.5 267.2,301.9 269.0,297.2 270.8,293.5 272.6,289.8 274.3,286.9 276.1,284.0 277.9,282.0 279.7,280.3 281.5,278.6 283.3,277.0 285.0,276.0 286.8,274.9 288.6,273.8 290.4,272.8 292.2,272.1 294.0,271.5 295.7,270.9 297.5,270.2 299.3,269.6 301.1,268.9 302.9,268.3 304.7,268.0 306.5,267.8 308.2,267.5 310.0,267.3 311.8,267.0 313.6,266.8 315.4,266.5 317.2,266.4 318.9,266.3 320.7,266.2 322.5,266.1" fill="none" stroke="#f08a8e" stroke-width="0.5"/>
<g fill="#e8141c"><circle cx="190.5" cy="371.7" r="1.0"/><circle cx="191.6" cy="369.1" r="1.0"/><circle cx="192.7" cy="367.2" r="1.0"/><circle cx="193.8" cy="365.7" r="1.0"/><circle cx="195.0" cy="364.5" r="1.0"/><circle cx="196.1" cy="363.2" r="1.0"/><circle cx="197.2" cy="362.0" r="1.0"/><circle cx="198.3" cy="361.0" r="1.0"/><circle cx="199.4" cy="360.1" r="1.0"/><circle cx="200.5" cy="359.2" r="1.0"/><circle cx="201.6" cy="358.3" r="1.0"/><circle cx="202.8" cy="357.5" r="1.0"/><circle cx="203.0" cy="357.4" r="1.0"/><circle cx="204.8" cy="356.8" r="1.0"/><circle cx="206.5" cy="356.1" r="1.0"/><circle cx="208.3" cy="355.5" r="1.0"/><circle cx="210.1" cy="354.8" r="1.0"/><circle cx="211.9" cy="354.2" r="1.0"/><circle cx="213.7" cy="353.5" r="1.0"/><circle cx="215.5" cy="352.9" r="1.0"/><circle cx="217.3" cy="352.2" r="1.0"/><circle cx="219.0" cy="351.5" r="1.0"/><circle cx="220.8" cy="350.9" r="1.0"/><circle cx="222.6" cy="350.2" r="1.0"/><circle cx="224.4" cy="349.5" r="1.0"/><circle cx="226.2" cy="348.8" r="1.0"/><circle cx="228.0" cy="348.1" r="1.0"/><circle cx="229.7" cy="347.2" r="1.0"/><circle cx="231.5" cy="346.3" r="1.0"/><circle cx="233.3" cy="345.3" r="1.0"/><circle cx="235.1" cy="344.4" r="1.0"/><circle cx="236.9" cy="343.5" r="1.0"/><circle cx="238.7" cy="342.5" r="1.0"/><circle cx="240.4" cy="341.6" r="1.0"/><circle cx="242.2" cy="340.2" r="1.0"/><circle cx="244.0" cy="338.8" r="1.0"/><circle cx="245.8" cy="337.5" r="1.0"/><circle cx="247.6" cy="336.1" r="1.0"/><circle cx="249.4" cy="334.3" r="1.0"/><circle cx="251.1" cy="332.4" r="1.0"/><circle cx="252.9" cy="330.4" r="1.0"/><circle cx="254.7" cy="327.7" r="1.0"/><circle cx="256.5" cy="325.1" r="1.0"/><circle cx="258.3" cy="322.2" r="1.0"/><circle cx="260.1" cy="318.7" r="1.0"/><circle cx="261.9" cy="315.1" r="1.0"/><circle cx="263.6" cy="310.8" r="1.0"/><circle cx="265.4" cy="306.5" r="1.0"/><circle cx="267.2" cy="301.9" r="1.0"/><circle cx="269.0" cy="297.2" r="1.0"/><circle cx="270.8" cy="293.5" r="1.0"/><circle cx="272.6" cy="289.8" r="1.0"/><circle cx="274.3" cy="286.9" r="1.0"/><circle cx="276.1" cy="284.0" r="1.0"/><circle cx="277.9" cy="282.0" r="1.0"/><circle cx="279.7" cy="280.3" r="1.0"/><circle cx="281.5" cy="278.6" r="1.0"/><circle cx="283.3" cy="277.0" r="1.0"/><circle cx="285.0" cy="276.0" r="1.0"/><circle cx="286.8" cy="274.9" r="1.0"/><circle cx="288.6" cy="273.8" r="1.0"/><circle cx="290.4" cy="272.8" r="1.0"/><circle cx="292.2" cy="272.1" r="1.0"/><circle cx="294.0" cy="271.5" r="1.0"/><circle cx="295.7" cy="270.9" r="1.0"/><circle cx="297.5" cy="270.2" r="1.0"/><circle cx="299.3" cy="269.6" r="1.0"/><circle cx="301.1" cy="268.9" r="1.0"/><circle cx="302.9" cy="268.3" r="1.0"/><circle cx="304.7" cy="268.0" r="1.0"/><circle cx="306.5" cy="267.8" r="1.0"/><circle cx="308.2" cy="267.5" r="1.0"/><circle cx="310.0" cy="267.3" r="1.0"/><circle cx="311.8" cy="267.0" r="1.0"/><circle cx="313.6" cy="266.8" r="1.0"/><circle cx="315.4" cy="266.5" r="1.0"/><circle cx="317.2" cy="266.4" r="1.0"/><circle cx="318.9" cy="266.3" r="1.0"/><circle cx="320.7" cy="266.2" r="1.0"/><circle cx="322.5" cy="266.1" r="1.0"/></g>
<polyline points="190.5,370.9 191.6,368.0 192.7,365.9 193.8,364.5 195.0,363.0 196.1,361.6 197.2,360.6 198.3,359.8 199.4,359.0 200.5,358.1 201.6,357.3 202.8,356.5 203.0,356.4 204.8,355.7 206.5,355.0 208.3,354.2 210.1,353.5 211.9,352.8 213.7,352.1 215.5,351.4 217.3,350.6 219.0,349.9 220.8,349.1 222.6,348.4 224.4,347.6 226.2,346.9 228.0,346.1 229.7,345.0 231.5,343.9 233.3,342.9 235.1,341.8 236.9,340.7 238.7,339.7 240.4,338.5 242.2,337.0 244.0,335.6 245.8,334.1 247.6,332.6 249.4,330.5 251.1,328.4 252.9,326.1 254.7,323.0 256.5,319.9 258.3,316.4 260.1,312.3 261.9,308.0 263.6,303.2 265.4,298.6 267.2,294.6 269.0,290.7 270.8,287.7 272.6,284.7 274.3,282.6 276.1,280.6 277.9,278.9 279.7,277.4 281.5,276.2 283.3,275.3 285.0,274.3 286.8,273.4 288.6,272.5 290.4,271.5 292.2,271.0 294.0,270.5 295.7,269.9 297.5,269.4 299.3,268.9 301.1,268.3 302.9,267.8 304.7,267.6 306.5,267.4 308.2,267.1 310.0,266.9 311.8,266.7 313.6,266.5 315.4,266.3 317.2,266.2 318.9,266.2 320.7,266.1 322.5,266.1" fill="none" stroke="#8a8ae8" stroke-width="0.5"/>
<g fill="#1b1bd8"><circle cx="190.5" cy="370.9" r="1.0"/><circle cx="191.6" cy="368.0" r="1.0"/><circle cx="192.7" cy="365.9" r="1.0"/><circle cx="193.8" cy="364.5" r="1.0"/><circle cx="195.0" cy="363.0" r="1.0"/><circle cx="196.1" cy="361.6" r="1.0"/><circle cx="197.2" cy="360.6" r="1.0"/><circle cx="198.3" cy="359.8" r="1.0"/><circle cx="199.4" cy="359.0" r="1.0"/><circle cx="200.5" cy="358.1" r="1.0"/><circle cx="201.6" cy="357.3" r="1.0"/><circle cx="202.8" cy="356.5" r="1.0"/><circle cx="203.0" cy="356.4" r="1.0"/><circle cx="204.8" cy="355.7" r="1.0"/><circle cx="206.5" cy="355.0" r="1.0"/><circle cx="208.3" cy="354.2" r="1.0"/><circle cx="210.1" cy="353.5" r="1.0"/><circle cx="211.9" cy="352.8" r="1.0"/><circle cx="213.7" cy="352.1" r="1.0"/><circle cx="215.5" cy="351.4" r="1.0"/><circle cx="217.3" cy="350.6" r="1.0"/><circle cx="219.0" cy="349.9" r="1.0"/><circle cx="220.8" cy="349.1" r="1.0"/><circle cx="222.6" cy="348.4" r="1.0"/><circle cx="224.4" cy="347.6" r="1.0"/><circle cx="226.2" cy="346.9" r="1.0"/><circle cx="228.0" cy="346.1" r="1.0"/><circle cx="229.7" cy="345.0" r="1.0"/><circle cx="231.5" cy="343.9" r="1.0"/><circle cx="233.3" cy="342.9" r="1.0"/><circle cx="235.1" cy="341.8" r="1.0"/><circle cx="236.9" cy="340.7" r="1.0"/><circle cx="238.7" cy="339.7" r="1.0"/><circle cx="240.4" cy="338.5" r="1.0"/><circle cx="242.2" cy="337.0" r="1.0"/><circle cx="244.0" cy="335.6" r="1.0"/><circle cx="245.8" cy="334.1" r="1.0"/><circle cx="247.6" cy="332.6" r="1.0"/><circle cx="249.4" cy="330.5" r="1.0"/><circle cx="251.1" cy="328.4" r="1.0"/><circle cx="252.9" cy="326.1" r="1.0"/><circle cx="254.7" cy="323.0" r="1.0"/><circle cx="256.5" cy="319.9" r="1.0"/><circle cx="258.3" cy="316.4" r="1.0"/><circle cx="260.1" cy="312.3" r="1.0"/><circle cx="261.9" cy="308.0" r="1.0"/><circle cx="263.6" cy="303.2" r="1.0"/><circle cx="265.4" cy="298.6" r="1.0"/><circle cx="267.2" cy="294.6" r="1.0"/><circle cx="269.0" cy="290.7" r="1.0"/><circle cx="270.8" cy="287.7" r="1.0"/><circle cx="272.6" cy="284.7" r="1.0"/><circle cx="274.3" cy="282.6" r="1.0"/><circle cx="276.1" cy="280.6" r="1.0"/><circle cx="277.9" cy="278.9" r="1.0"/><circle cx="279.7" cy="277.4" r="1.0"/><circle cx="281.5" cy="276.2" r="1.0"/><circle cx="283.3" cy="275.3" r="1.0"/><circle cx="285.0" cy="274.3" r="1.0"/><circle cx="286.8" cy="273.4" r="1.0"/><circle cx="288.6" cy="272.5" r="1.0"/><circle cx="290.4" cy="271.5" r="1.0"/><circle cx="292.2" cy="271.0" r="1.0"/><circle cx="294.0" cy="270.5" r="1.0"/><circle cx="295.7" cy="269.9" r="1.0"/><circle cx="297.5" cy="269.4" r="1.0"/><circle cx="299.3" cy="268.9" r="1.0"/><circle cx="301.1" cy="268.3" r="1.0"/><circle cx="302.9" cy="267.8" r="1.0"/><circle cx="304.7" cy="267.6" r="1.0"/><circle cx="306.5" cy="267.4" r="1.0"/><circle cx="308.2" cy="267.1" r="1.0"/><circle cx="310.0" cy="266.9" r="1.0"/><circle cx="311.8" cy="266.7" r="1.0"/><circle cx="313.6" cy="266.5" r="1.0"/><circle cx="315.4" cy="266.3" r="1.0"/><circle cx="317.2" cy="266.2" r="1.0"/><circle cx="318.9" cy="266.2" r="1.0"/><circle cx="320.7" cy="266.1" r="1.0"/><circle cx="322.5" cy="266.1" r="1.0"/></g>
<defs><radialGradient id="gC" cx="0.4" cy="0.35" r="0.65"><stop offset="0" stop-color="#f4f4f4"/><stop offset="0.5" stop-color="#b9b9b9"/><stop offset="1" stop-color="#6c6c6c"/></radialGradient><radialGradient id="gN" cx="0.4" cy="0.35" r="0.65"><stop offset="0" stop-color="#6a6aff"/><stop offset="0.5" stop-color="#1818e8"/><stop offset="1" stop-color="#0808a0"/></radialGradient><radialGradient id="gS" cx="0.4" cy="0.35" r="0.65"><stop offset="0" stop-color="#ffffb0"/><stop offset="0.5" stop-color="#f2f200"/><stop offset="1" stop-color="#b8b800"/></radialGradient><radialGradient id="gSo" cx="0.4" cy="0.35" r="0.65"><stop offset="0" stop-color="#e8e480"/><stop offset="0.5" stop-color="#b9b41e"/><stop offset="1" stop-color="#7a7600"/></radialGradient><radialGradient id="gFe" cx="0.4" cy="0.35" r="0.65"><stop offset="0" stop-color="#d0c450"/><stop offset="0.5" stop-color="#8f8410"/><stop offset="1" stop-color="#4a4300"/></radialGradient><radialGradient id="gH" cx="0.4" cy="0.35" r="0.65"><stop offset="0" stop-color="#ffffff"/><stop offset="0.5" stop-color="#f0f0f0"/><stop offset="1" stop-color="#b0b0b0"/></radialGradient></defs>
<g stroke="#d0963e" stroke-width="1.0" stroke-linecap="round"><line x1="412.7" y1="248.4" x2="424.2" y2="254.8"/><line x1="424.2" y1="254.8" x2="420.3" y2="264.8"/><line x1="420.3" y1="264.8" x2="410.2" y2="263.8"/><line x1="410.2" y1="263.8" x2="406.5" y2="253.7"/><line x1="406.5" y1="253.7" x2="412.7" y2="248.4"/><line x1="412.7" y1="248.4" x2="411.6" y2="242.2"/><line x1="406.5" y1="253.7" x2="400.2" y2="251.3"/><line x1="410.2" y1="263.8" x2="407.2" y2="268.2"/><line x1="425.9" y1="274.9" x2="423.5" y2="280.0"/><line x1="420.3" y1="264.8" x2="425.9" y2="274.9"/><line x1="425.9" y1="274.9" x2="434.9" y2="274.9"/><line x1="434.9" y1="274.9" x2="440.4" y2="284.2"/><line x1="440.4" y1="284.2" x2="449.4" y2="285.1"/><line x1="449.4" y1="285.1" x2="453.8" y2="294.3"/><line x1="453.8" y1="294.3" x2="446.6" y2="299.4"/><line x1="446.6" y1="299.4" x2="438.3" y2="293.9"/><line x1="438.3" y1="293.9" x2="440.4" y2="284.2"/><line x1="449.4" y1="285.1" x2="452.5" y2="280.7"/><line x1="438.3" y1="293.9" x2="432.1" y2="295.2"/><line x1="453.8" y1="294.3" x2="470.0" y2="298.4"/><line x1="446.6" y1="299.4" x2="450.1" y2="313.9"/><line x1="425.4" y1="296.6" x2="436.2" y2="303.1"/><line x1="436.2" y1="303.1" x2="444.8" y2="308.0"/><line x1="444.8" y1="308.0" x2="450.1" y2="313.9"/><line x1="459.8" y1="248.4" x2="465.7" y2="254.4"/><line x1="465.7" y1="254.4" x2="459.1" y2="265.7"/><line x1="459.1" y1="265.7" x2="451.5" y2="264.4"/><line x1="451.5" y1="264.4" x2="452.9" y2="254.8"/><line x1="452.9" y1="254.8" x2="459.8" y2="248.4"/><line x1="459.8" y1="248.4" x2="460.8" y2="241.9"/><line x1="452.9" y1="254.8" x2="449.0" y2="252.6"/><line x1="451.5" y1="264.4" x2="447.6" y2="270.3"/><line x1="459.8" y1="274.9" x2="456.3" y2="280.4"/><line x1="459.1" y1="265.7" x2="459.8" y2="274.9"/><line x1="459.8" y1="274.9" x2="466.4" y2="274.9"/><line x1="466.4" y1="274.9" x2="466.4" y2="283.8"/><line x1="466.4" y1="283.8" x2="469.8" y2="286.9"/><line x1="469.8" y1="286.9" x2="467.8" y2="293.9"/><line x1="467.8" y1="293.9" x2="464.6" y2="299.8"/><line x1="464.6" y1="299.8" x2="463.3" y2="293.9"/><line x1="463.3" y1="293.9" x2="466.4" y2="283.8"/><line x1="469.8" y1="286.9" x2="470.2" y2="279.3"/><line x1="467.8" y1="293.9" x2="470.0" y2="298.4"/><line x1="479.2" y1="262.7" x2="476.4" y2="275.2"/><line x1="476.4" y1="275.2" x2="474.8" y2="283.5"/><line x1="474.8" y1="283.5" x2="470.0" y2="298.4"/><line x1="426.6" y1="314.5" x2="434.9" y2="320.5"/><line x1="434.9" y1="320.5" x2="432.1" y2="329.8"/><line x1="432.1" y1="329.8" x2="421.7" y2="331.2"/><line x1="421.7" y1="331.2" x2="418.2" y2="321.5"/><line x1="418.2" y1="321.5" x2="426.6" y2="314.5"/><line x1="434.9" y1="320.5" x2="450.1" y2="313.9"/><line x1="418.2" y1="321.5" x2="412.4" y2="320.1"/><line x1="432.1" y1="329.8" x2="434.9" y2="335.3"/><line x1="409.7" y1="342.0" x2="407.9" y2="337.1"/><line x1="421.7" y1="331.2" x2="416.9" y2="340.6"/><line x1="416.9" y1="340.6" x2="409.7" y2="342.0"/><line x1="409.7" y1="342.0" x2="403.7" y2="351.5"/><line x1="403.7" y1="351.5" x2="406.1" y2="361.6"/><line x1="406.1" y1="361.6" x2="397.7" y2="368.1"/><line x1="397.7" y1="368.1" x2="391.2" y2="363.4"/><line x1="391.2" y1="363.4" x2="395.0" y2="352.9"/><line x1="395.0" y1="352.9" x2="403.7" y2="351.5"/><line x1="395.0" y1="352.9" x2="394.0" y2="348.8"/><line x1="391.2" y1="363.4" x2="387.1" y2="366.5"/><line x1="397.7" y1="368.1" x2="395.0" y2="375.5"/><line x1="456.3" y1="319.4" x2="462.6" y2="313.9"/><line x1="462.6" y1="313.9" x2="465.3" y2="320.8"/><line x1="465.3" y1="320.8" x2="460.5" y2="329.8"/><line x1="460.5" y1="329.8" x2="453.6" y2="329.1"/><line x1="453.6" y1="329.1" x2="456.3" y2="319.4"/><line x1="450.1" y1="313.9" x2="456.3" y2="319.4"/><line x1="450.1" y1="313.9" x2="453.6" y2="329.1"/><line x1="453.6" y1="329.1" x2="452.9" y2="333.2"/><line x1="466.0" y1="340.2" x2="469.5" y2="335.7"/><line x1="460.5" y1="329.8" x2="460.5" y2="339.9"/><line x1="460.5" y1="339.9" x2="466.0" y2="340.2"/><line x1="453.6" y1="329.1" x2="456.3" y2="336.7"/><line x1="456.3" y1="336.7" x2="460.1" y2="348.8"/><line x1="466.0" y1="340.2" x2="465.3" y2="350.6"/><line x1="465.3" y1="350.6" x2="459.5" y2="360.2"/><line x1="459.5" y1="360.2" x2="463.3" y2="367.9"/><line x1="463.3" y1="367.9" x2="470.2" y2="362.3"/><line x1="470.2" y1="362.3" x2="472.0" y2="352.4"/><line x1="472.0" y1="352.4" x2="465.3" y2="350.6"/><line x1="472.0" y1="352.4" x2="475.0" y2="347.8"/><line x1="470.2" y1="362.3" x2="473.0" y2="364.4"/><line x1="463.3" y1="367.9" x2="461.2" y2="374.8"/><line x1="470.0" y1="298.4" x2="467.7" y2="293.5"/><line x1="470.0" y1="298.4" x2="464.7" y2="299.8"/><line x1="470.0" y1="298.4" x2="472.3" y2="302.5"/><line x1="450.1" y1="313.9" x2="466.8" y2="309.5"/><line x1="466.8" y1="309.5" x2="472.3" y2="302.5"/><line x1="462.6" y1="313.9" x2="466.8" y2="309.5"/><line x1="479.9" y1="299.8" x2="484.4" y2="296.0"/><line x1="470.9" y1="310.4" x2="468.9" y2="314.3"/><line x1="487.5" y1="309.5" x2="482.0" y2="311.3"/><line x1="494.5" y1="302.5" x2="495.9" y2="299.1"/><line x1="513.2" y1="300.2" x2="519.0" y2="297.7"/><line x1="470.0" y1="298.4" x2="479.9" y2="299.8"/><line x1="479.9" y1="299.8" x2="479.9" y2="304.9"/><line x1="470.0" y1="298.4" x2="484.8" y2="303.9"/><line x1="484.8" y1="303.9" x2="487.5" y2="309.5"/><line x1="487.5" y1="309.5" x2="492.4" y2="316.4"/><line x1="479.9" y1="304.9" x2="488.9" y2="302.1"/><line x1="488.9" y1="302.1" x2="494.5" y2="302.5"/><line x1="494.5" y1="302.5" x2="508.0" y2="297.7"/><line x1="508.0" y1="297.7" x2="513.2" y2="300.2"/><line x1="513.2" y1="300.2" x2="507.6" y2="306.3"/><line x1="507.6" y1="306.3" x2="497.2" y2="309.5"/><line x1="497.2" y1="309.5" x2="494.5" y2="302.5"/><line x1="466.8" y1="309.5" x2="470.9" y2="310.4"/><line x1="470.0" y1="298.4" x2="479.9" y2="304.9"/></g><line x1="424.1" y1="281.4" x2="425.4" y2="295.7" stroke="#e000d8" stroke-width="1.90" stroke-dasharray="2.30 1.10"/><line x1="425.7" y1="295.9" x2="431.8" y2="295.2" stroke="#e000d8" stroke-width="1.90" stroke-dasharray="2.30 1.10"/><line x1="491.3" y1="317.1" x2="469.5" y2="318.5" stroke="#e000d8" stroke-width="1.90" stroke-dasharray="2.30 1.10"/><line x1="490.7" y1="318.5" x2="470.2" y2="333.7" stroke="#e000d8" stroke-width="1.90" stroke-dasharray="2.30 1.10"/><line x1="480.8" y1="261.6" x2="496.6" y2="249.3" stroke="#10c030" stroke-width="1.90" stroke-dasharray="2.30 1.10"/><line x1="481.5" y1="263.7" x2="503.1" y2="266.2" stroke="#10c030" stroke-width="1.90" stroke-dasharray="2.30 1.10"/><g fill="url(#gH)" stroke="#9a9a9a" stroke-width="0.2"><circle cx="411.6" cy="242.2" r="0.95"/><circle cx="400.2" cy="251.3" r="0.95"/><circle cx="407.2" cy="268.2" r="0.95"/><circle cx="423.5" cy="280.0" r="0.95"/><circle cx="452.5" cy="280.7" r="0.95"/><circle cx="432.1" cy="295.2" r="0.95"/><circle cx="460.8" cy="241.9" r="0.95"/><circle cx="449.0" cy="252.6" r="0.95"/><circle cx="447.6" cy="270.3" r="0.95"/><circle cx="456.3" cy="280.4" r="0.95"/><circle cx="470.2" cy="279.3" r="0.95"/><circle cx="412.4" cy="320.1" r="0.95"/><circle cx="434.9" cy="335.3" r="0.95"/><circle cx="407.9" cy="337.1" r="0.95"/><circle cx="394.0" cy="348.8" r="0.95"/><circle cx="387.1" cy="366.5" r="0.95"/><circle cx="395.0" cy="375.5" r="0.95"/><circle cx="452.9" cy="333.2" r="0.95"/><circle cx="469.5" cy="335.7" r="0.95"/><circle cx="475.0" cy="347.8" r="0.95"/><circle cx="473.0" cy="364.4" r="0.95"/><circle cx="461.2" cy="374.8" r="0.95"/><circle cx="484.4" cy="296.0" r="0.95"/><circle cx="468.9" cy="314.3" r="0.95"/><circle cx="482.0" cy="311.3" r="0.95"/><circle cx="495.9" cy="299.1" r="0.95"/><circle cx="519.0" cy="297.7" r="0.95"/></g><g fill="url(#gC)" stroke="#7d7d7d" stroke-width="0.25"><circle cx="412.7" cy="248.4" r="1.60"/><circle cx="420.3" cy="264.8" r="1.60"/><circle cx="410.2" cy="263.8" r="1.60"/><circle cx="406.5" cy="253.7" r="1.60"/><circle cx="425.9" cy="274.9" r="1.60"/><circle cx="449.4" cy="285.1" r="1.60"/><circle cx="438.3" cy="293.9" r="1.60"/><circle cx="436.2" cy="303.1" r="1.60"/><circle cx="459.8" cy="248.4" r="1.60"/><circle cx="459.1" cy="265.7" r="1.60"/><circle cx="451.5" cy="264.4" r="1.60"/><circle cx="452.9" cy="254.8" r="1.60"/><circle cx="459.8" cy="274.9" r="1.60"/><circle cx="469.8" cy="286.9" r="1.60"/><circle cx="463.3" cy="293.9" r="1.60"/><circle cx="476.4" cy="275.2" r="1.60"/><circle cx="432.1" cy="329.8" r="1.60"/><circle cx="418.2" cy="321.5" r="1.60"/><circle cx="409.7" cy="342.0" r="1.60"/><circle cx="403.7" cy="351.5" r="1.60"/><circle cx="397.7" cy="368.1" r="1.60"/><circle cx="391.2" cy="363.4" r="1.60"/><circle cx="395.0" cy="352.9" r="1.60"/><circle cx="465.3" cy="320.8" r="1.60"/><circle cx="466.0" cy="340.2" r="1.60"/><circle cx="456.3" cy="336.7" r="1.60"/><circle cx="465.3" cy="350.6" r="1.60"/><circle cx="463.3" cy="367.9" r="1.60"/><circle cx="470.2" cy="362.3" r="1.60"/><circle cx="472.0" cy="352.4" r="1.60"/><circle cx="479.9" cy="299.8" r="1.60"/><circle cx="470.9" cy="310.4" r="1.60"/><circle cx="487.5" cy="309.5" r="1.60"/><circle cx="494.5" cy="302.5" r="1.60"/><circle cx="507.6" cy="306.3" r="1.60"/><circle cx="513.2" cy="300.2" r="1.60"/></g><g fill="url(#gN)" stroke="#0c0ca0" stroke-width="0.25"><circle cx="434.9" cy="274.9" r="1.85"/><circle cx="440.4" cy="284.2" r="1.85"/><circle cx="453.8" cy="294.3" r="1.85"/><circle cx="446.6" cy="299.4" r="1.85"/><circle cx="444.8" cy="308.0" r="1.85"/><circle cx="466.4" cy="274.9" r="1.85"/><circle cx="466.4" cy="283.8" r="1.85"/><circle cx="467.8" cy="293.9" r="1.85"/><circle cx="464.6" cy="299.8" r="1.85"/><circle cx="474.8" cy="283.5" r="1.85"/><circle cx="426.6" cy="314.5" r="1.85"/><circle cx="434.9" cy="320.5" r="1.85"/><circle cx="421.7" cy="331.2" r="1.85"/><circle cx="416.9" cy="340.6" r="1.85"/><circle cx="456.3" cy="319.4" r="1.85"/><circle cx="462.6" cy="313.9" r="1.85"/><circle cx="460.5" cy="329.8" r="1.85"/><circle cx="453.6" cy="329.1" r="1.85"/><circle cx="460.5" cy="339.9" r="1.85"/><circle cx="467.7" cy="293.5" r="1.85"/><circle cx="464.7" cy="299.8" r="1.85"/><circle cx="472.3" cy="302.5" r="1.85"/><circle cx="466.8" cy="309.5" r="1.85"/><circle cx="479.9" cy="304.9" r="1.85"/><circle cx="484.8" cy="303.9" r="1.85"/><circle cx="488.9" cy="302.1" r="1.85"/></g><g fill="url(#gS)" stroke="#b5b500" stroke-width="0.25"><circle cx="424.2" cy="254.8" r="1.90"/><circle cx="465.7" cy="254.4" r="1.90"/><circle cx="479.2" cy="262.7" r="1.90"/><circle cx="406.1" cy="361.6" r="1.90"/><circle cx="460.1" cy="348.8" r="1.90"/><circle cx="459.5" cy="360.2" r="1.90"/><circle cx="497.2" cy="309.5" r="1.90"/><circle cx="508.0" cy="297.7" r="1.90"/><circle cx="492.4" cy="316.4" r="1.90"/></g><g fill="url(#gSo)" stroke="#8a8500" stroke-width="0.25"><circle cx="425.4" cy="296.6" r="1.90"/></g><g fill="url(#gFe)" stroke="#5e5600" stroke-width="0.25"><circle cx="450.1" cy="313.9" r="3.10"/><circle cx="470.0" cy="298.4" r="3.10"/></g>
<g stroke="#d0963e" stroke-width="1.0" stroke-linecap="round"><line x1="509.4" y1="246.6" x2="520.9" y2="253.0"/><line x1="520.9" y1="253.0" x2="517.0" y2="263.0"/><line x1="517.0" y1="263.0" x2="506.9" y2="262.0"/><line x1="506.9" y1="262.0" x2="503.2" y2="251.9"/><line x1="503.2" y1="251.9" x2="509.4" y2="246.6"/><line x1="509.4" y1="246.6" x2="508.3" y2="240.4"/><line x1="503.2" y1="251.9" x2="496.9" y2="249.5"/><line x1="506.9" y1="262.0" x2="503.9" y2="266.4"/><line x1="522.6" y1="273.1" x2="520.2" y2="278.2"/><line x1="517.0" y1="263.0" x2="522.6" y2="273.1"/><line x1="522.6" y1="273.1" x2="531.6" y2="273.1"/><line x1="531.6" y1="273.1" x2="537.1" y2="282.4"/><line x1="537.1" y1="282.4" x2="546.1" y2="283.3"/><line x1="546.1" y1="283.3" x2="550.5" y2="292.5"/><line x1="550.5" y1="292.5" x2="543.3" y2="297.6"/><line x1="543.3" y1="297.6" x2="535.0" y2="292.1"/><line x1="535.0" y1="292.1" x2="537.1" y2="282.4"/><line x1="546.1" y1="283.3" x2="549.2" y2="278.9"/><line x1="535.0" y1="292.1" x2="528.8" y2="293.4"/><line x1="550.5" y1="292.5" x2="566.7" y2="296.6"/><line x1="543.3" y1="297.6" x2="546.8" y2="312.1"/><line x1="522.1" y1="294.8" x2="532.9" y2="301.3"/><line x1="532.9" y1="301.3" x2="541.5" y2="306.2"/><line x1="541.5" y1="306.2" x2="546.8" y2="312.1"/><line x1="556.5" y1="246.6" x2="562.4" y2="252.6"/><line x1="562.4" y1="252.6" x2="555.8" y2="263.9"/><line x1="555.8" y1="263.9" x2="548.2" y2="262.6"/><line x1="548.2" y1="262.6" x2="549.6" y2="253.0"/><line x1="549.6" y1="253.0" x2="556.5" y2="246.6"/><line x1="556.5" y1="246.6" x2="557.5" y2="240.1"/><line x1="549.6" y1="253.0" x2="545.7" y2="250.8"/><line x1="548.2" y1="262.6" x2="544.3" y2="268.5"/><line x1="556.5" y1="273.1" x2="553.0" y2="278.6"/><line x1="555.8" y1="263.9" x2="556.5" y2="273.1"/><line x1="556.5" y1="273.1" x2="563.1" y2="273.1"/><line x1="563.1" y1="273.1" x2="563.1" y2="282.0"/><line x1="563.1" y1="282.0" x2="566.5" y2="285.1"/><line x1="566.5" y1="285.1" x2="564.5" y2="292.1"/><line x1="564.5" y1="292.1" x2="561.3" y2="298.0"/><line x1="561.3" y1="298.0" x2="560.0" y2="292.1"/><line x1="560.0" y1="292.1" x2="563.1" y2="282.0"/><line x1="566.5" y1="285.1" x2="566.9" y2="277.5"/><line x1="564.5" y1="292.1" x2="566.7" y2="296.6"/><line x1="575.9" y1="260.9" x2="573.1" y2="273.4"/><line x1="573.1" y1="273.4" x2="571.5" y2="281.7"/><line x1="571.5" y1="281.7" x2="566.7" y2="296.6"/><line x1="523.3" y1="312.7" x2="531.6" y2="318.7"/><line x1="531.6" y1="318.7" x2="528.8" y2="328.0"/><line x1="528.8" y1="328.0" x2="518.4" y2="329.4"/><line x1="518.4" y1="329.4" x2="514.9" y2="319.7"/><line x1="514.9" y1="319.7" x2="523.3" y2="312.7"/><line x1="531.6" y1="318.7" x2="546.8" y2="312.1"/><line x1="514.9" y1="319.7" x2="509.1" y2="318.3"/><line x1="528.8" y1="328.0" x2="531.6" y2="333.5"/><line x1="506.4" y1="340.2" x2="504.6" y2="335.3"/><line x1="518.4" y1="329.4" x2="513.6" y2="338.8"/><line x1="513.6" y1="338.8" x2="506.4" y2="340.2"/><line x1="506.4" y1="340.2" x2="500.4" y2="349.7"/><line x1="500.4" y1="349.7" x2="502.8" y2="359.8"/><line x1="502.8" y1="359.8" x2="494.4" y2="366.3"/><line x1="494.4" y1="366.3" x2="487.9" y2="361.6"/><line x1="487.9" y1="361.6" x2="491.7" y2="351.1"/><line x1="491.7" y1="351.1" x2="500.4" y2="349.7"/><line x1="491.7" y1="351.1" x2="490.7" y2="347.0"/><line x1="487.9" y1="361.6" x2="483.8" y2="364.7"/><line x1="494.4" y1="366.3" x2="491.7" y2="373.7"/><line x1="553.0" y1="317.6" x2="559.3" y2="312.1"/><line x1="559.3" y1="312.1" x2="562.0" y2="319.0"/><line x1="562.0" y1="319.0" x2="557.2" y2="328.0"/><line x1="557.2" y1="328.0" x2="550.3" y2="327.3"/><line x1="550.3" y1="327.3" x2="553.0" y2="317.6"/><line x1="546.8" y1="312.1" x2="553.0" y2="317.6"/><line x1="546.8" y1="312.1" x2="550.3" y2="327.3"/><line x1="550.3" y1="327.3" x2="549.6" y2="331.4"/><line x1="562.7" y1="338.4" x2="566.2" y2="333.9"/><line x1="557.2" y1="328.0" x2="557.2" y2="338.1"/><line x1="557.2" y1="338.1" x2="562.7" y2="338.4"/><line x1="550.3" y1="327.3" x2="553.0" y2="334.9"/><line x1="553.0" y1="334.9" x2="556.8" y2="347.0"/><line x1="562.7" y1="338.4" x2="562.0" y2="348.8"/><line x1="562.0" y1="348.8" x2="556.2" y2="358.4"/><line x1="556.2" y1="358.4" x2="560.0" y2="366.1"/><line x1="560.0" y1="366.1" x2="566.9" y2="360.5"/><line x1="566.9" y1="360.5" x2="568.7" y2="350.6"/><line x1="568.7" y1="350.6" x2="562.0" y2="348.8"/><line x1="568.7" y1="350.6" x2="571.7" y2="346.0"/><line x1="566.9" y1="360.5" x2="569.7" y2="362.6"/><line x1="560.0" y1="366.1" x2="557.9" y2="373.0"/><line x1="566.7" y1="296.6" x2="564.4" y2="291.7"/><line x1="566.7" y1="296.6" x2="561.4" y2="298.0"/><line x1="566.7" y1="296.6" x2="569.0" y2="300.7"/><line x1="546.8" y1="312.1" x2="563.5" y2="307.7"/><line x1="563.5" y1="307.7" x2="569.0" y2="300.7"/><line x1="559.3" y1="312.1" x2="563.5" y2="307.7"/><line x1="576.6" y1="298.0" x2="581.1" y2="294.2"/><line x1="567.6" y1="308.6" x2="565.6" y2="312.5"/><line x1="584.2" y1="307.7" x2="578.7" y2="309.5"/><line x1="591.2" y1="300.7" x2="592.6" y2="297.3"/><line x1="609.9" y1="298.4" x2="615.7" y2="295.9"/><line x1="566.7" y1="296.6" x2="576.6" y2="298.0"/><line x1="576.6" y1="298.0" x2="576.6" y2="303.1"/><line x1="566.7" y1="296.6" x2="581.5" y2="302.1"/><line x1="581.5" y1="302.1" x2="584.2" y2="307.7"/><line x1="584.2" y1="307.7" x2="589.1" y2="314.6"/><line x1="576.6" y1="303.1" x2="585.6" y2="300.3"/><line x1="585.6" y1="300.3" x2="591.2" y2="300.7"/><line x1="591.2" y1="300.7" x2="604.7" y2="295.9"/><line x1="604.7" y1="295.9" x2="609.9" y2="298.4"/><line x1="609.9" y1="298.4" x2="604.3" y2="304.5"/><line x1="604.3" y1="304.5" x2="593.9" y2="307.7"/><line x1="593.9" y1="307.7" x2="591.2" y2="300.7"/><line x1="563.5" y1="307.7" x2="567.6" y2="308.6"/><line x1="566.7" y1="296.6" x2="576.6" y2="303.1"/></g><line x1="520.8" y1="279.6" x2="522.1" y2="293.9" stroke="#e000d8" stroke-width="1.90" stroke-dasharray="2.30 1.10"/><line x1="522.4" y1="294.1" x2="528.5" y2="293.4" stroke="#e000d8" stroke-width="1.90" stroke-dasharray="2.30 1.10"/><line x1="588.0" y1="315.3" x2="566.2" y2="316.7" stroke="#e000d8" stroke-width="1.90" stroke-dasharray="2.30 1.10"/><line x1="587.4" y1="316.7" x2="566.9" y2="331.9" stroke="#e000d8" stroke-width="1.90" stroke-dasharray="2.30 1.10"/><line x1="577.5" y1="259.8" x2="593.3" y2="247.5" stroke="#10c030" stroke-width="1.90" stroke-dasharray="2.30 1.10"/><line x1="578.2" y1="261.9" x2="599.8" y2="264.4" stroke="#10c030" stroke-width="1.90" stroke-dasharray="2.30 1.10"/><g fill="url(#gH)" stroke="#9a9a9a" stroke-width="0.2"><circle cx="508.3" cy="240.4" r="0.95"/><circle cx="496.9" cy="249.5" r="0.95"/><circle cx="503.9" cy="266.4" r="0.95"/><circle cx="520.2" cy="278.2" r="0.95"/><circle cx="549.2" cy="278.9" r="0.95"/><circle cx="528.8" cy="293.4" r="0.95"/><circle cx="557.5" cy="240.1" r="0.95"/><circle cx="545.7" cy="250.8" r="0.95"/><circle cx="544.3" cy="268.5" r="0.95"/><circle cx="553.0" cy="278.6" r="0.95"/><circle cx="566.9" cy="277.5" r="0.95"/><circle cx="509.1" cy="318.3" r="0.95"/><circle cx="531.6" cy="333.5" r="0.95"/><circle cx="504.6" cy="335.3" r="0.95"/><circle cx="490.7" cy="347.0" r="0.95"/><circle cx="483.8" cy="364.7" r="0.95"/><circle cx="491.7" cy="373.7" r="0.95"/><circle cx="549.6" cy="331.4" r="0.95"/><circle cx="566.2" cy="333.9" r="0.95"/><circle cx="571.7" cy="346.0" r="0.95"/><circle cx="569.7" cy="362.6" r="0.95"/><circle cx="557.9" cy="373.0" r="0.95"/><circle cx="581.1" cy="294.2" r="0.95"/><circle cx="565.6" cy="312.5" r="0.95"/><circle cx="578.7" cy="309.5" r="0.95"/><circle cx="592.6" cy="297.3" r="0.95"/><circle cx="615.7" cy="295.9" r="0.95"/></g><g fill="url(#gC)" stroke="#7d7d7d" stroke-width="0.25"><circle cx="509.4" cy="246.6" r="1.60"/><circle cx="517.0" cy="263.0" r="1.60"/><circle cx="506.9" cy="262.0" r="1.60"/><circle cx="503.2" cy="251.9" r="1.60"/><circle cx="522.6" cy="273.1" r="1.60"/><circle cx="546.1" cy="283.3" r="1.60"/><circle cx="535.0" cy="292.1" r="1.60"/><circle cx="532.9" cy="301.3" r="1.60"/><circle cx="556.5" cy="246.6" r="1.60"/><circle cx="555.8" cy="263.9" r="1.60"/><circle cx="548.2" cy="262.6" r="1.60"/><circle cx="549.6" cy="253.0" r="1.60"/><circle cx="556.5" cy="273.1" r="1.60"/><circle cx="566.5" cy="285.1" r="1.60"/><circle cx="560.0" cy="292.1" r="1.60"/><circle cx="573.1" cy="273.4" r="1.60"/><circle cx="528.8" cy="328.0" r="1.60"/><circle cx="514.9" cy="319.7" r="1.60"/><circle cx="506.4" cy="340.2" r="1.60"/><circle cx="500.4" cy="349.7" r="1.60"/><circle cx="494.4" cy="366.3" r="1.60"/><circle cx="487.9" cy="361.6" r="1.60"/><circle cx="491.7" cy="351.1" r="1.60"/><circle cx="562.0" cy="319.0" r="1.60"/><circle cx="562.7" cy="338.4" r="1.60"/><circle cx="553.0" cy="334.9" r="1.60"/><circle cx="562.0" cy="348.8" r="1.60"/><circle cx="560.0" cy="366.1" r="1.60"/><circle cx="566.9" cy="360.5" r="1.60"/><circle cx="568.7" cy="350.6" r="1.60"/><circle cx="576.6" cy="298.0" r="1.60"/><circle cx="567.6" cy="308.6" r="1.60"/><circle cx="584.2" cy="307.7" r="1.60"/><circle cx="591.2" cy="300.7" r="1.60"/><circle cx="604.3" cy="304.5" r="1.60"/><circle cx="609.9" cy="298.4" r="1.60"/></g><g fill="url(#gN)" stroke="#0c0ca0" stroke-width="0.25"><circle cx="531.6" cy="273.1" r="1.85"/><circle cx="537.1" cy="282.4" r="1.85"/><circle cx="550.5" cy="292.5" r="1.85"/><circle cx="543.3" cy="297.6" r="1.85"/><circle cx="541.5" cy="306.2" r="1.85"/><circle cx="563.1" cy="273.1" r="1.85"/><circle cx="563.1" cy="282.0" r="1.85"/><circle cx="564.5" cy="292.1" r="1.85"/><circle cx="561.3" cy="298.0" r="1.85"/><circle cx="571.5" cy="281.7" r="1.85"/><circle cx="523.3" cy="312.7" r="1.85"/><circle cx="531.6" cy="318.7" r="1.85"/><circle cx="518.4" cy="329.4" r="1.85"/><circle cx="513.6" cy="338.8" r="1.85"/><circle cx="553.0" cy="317.6" r="1.85"/><circle cx="559.3" cy="312.1" r="1.85"/><circle cx="557.2" cy="328.0" r="1.85"/><circle cx="550.3" cy="327.3" r="1.85"/><circle cx="557.2" cy="338.1" r="1.85"/><circle cx="564.4" cy="291.7" r="1.85"/><circle cx="561.4" cy="298.0" r="1.85"/><circle cx="569.0" cy="300.7" r="1.85"/><circle cx="563.5" cy="307.7" r="1.85"/><circle cx="576.6" cy="303.1" r="1.85"/><circle cx="581.5" cy="302.1" r="1.85"/><circle cx="585.6" cy="300.3" r="1.85"/></g><g fill="url(#gS)" stroke="#b5b500" stroke-width="0.25"><circle cx="520.9" cy="253.0" r="1.90"/><circle cx="562.4" cy="252.6" r="1.90"/><circle cx="575.9" cy="260.9" r="1.90"/><circle cx="502.8" cy="359.8" r="1.90"/><circle cx="556.8" cy="347.0" r="1.90"/><circle cx="556.2" cy="358.4" r="1.90"/><circle cx="593.9" cy="307.7" r="1.90"/><circle cx="604.7" cy="295.9" r="1.90"/><circle cx="589.1" cy="314.6" r="1.90"/></g><g fill="url(#gSo)" stroke="#8a8500" stroke-width="0.25"><circle cx="522.1" cy="294.8" r="1.90"/></g><g fill="url(#gFe)" stroke="#5e5600" stroke-width="0.25"><circle cx="546.8" cy="312.1" r="3.10"/><circle cx="566.7" cy="296.6" r="3.10"/></g>
<g stroke="#d0963e" stroke-width="1.0" stroke-linecap="round"><line x1="606.1" y1="244.8" x2="617.6" y2="251.2"/><line x1="617.6" y1="251.2" x2="613.7" y2="261.2"/><line x1="613.7" y1="261.2" x2="603.6" y2="260.2"/><line x1="603.6" y1="260.2" x2="599.9" y2="250.1"/><line x1="599.9" y1="250.1" x2="606.1" y2="244.8"/><line x1="606.1" y1="244.8" x2="605.0" y2="238.6"/><line x1="599.9" y1="250.1" x2="593.6" y2="247.7"/><line x1="603.6" y1="260.2" x2="600.6" y2="264.6"/><line x1="619.3" y1="271.3" x2="616.9" y2="276.4"/><line x1="613.7" y1="261.2" x2="619.3" y2="271.3"/><line x1="619.3" y1="271.3" x2="628.3" y2="271.3"/><line x1="628.3" y1="271.3" x2="633.8" y2="280.6"/><line x1="633.8" y1="280.6" x2="642.8" y2="281.5"/><line x1="642.8" y1="281.5" x2="647.2" y2="290.7"/><line x1="647.2" y1="290.7" x2="640.0" y2="295.8"/><line x1="640.0" y1="295.8" x2="631.7" y2="290.3"/><line x1="631.7" y1="290.3" x2="633.8" y2="280.6"/><line x1="642.8" y1="281.5" x2="645.9" y2="277.1"/><line x1="631.7" y1="290.3" x2="625.5" y2="291.6"/><line x1="647.2" y1="290.7" x2="663.4" y2="294.8"/><line x1="640.0" y1="295.8" x2="643.5" y2="310.3"/><line x1="618.8" y1="293.0" x2="629.6" y2="299.5"/><line x1="629.6" y1="299.5" x2="638.2" y2="304.4"/><line x1="638.2" y1="304.4" x2="643.5" y2="310.3"/><line x1="653.2" y1="244.8" x2="659.1" y2="250.8"/><line x1="659.1" y1="250.8" x2="652.5" y2="262.1"/><line x1="652.5" y1="262.1" x2="644.9" y2="260.8"/><line x1="644.9" y1="260.8" x2="646.3" y2="251.2"/><line x1="646.3" y1="251.2" x2="653.2" y2="244.8"/><line x1="653.2" y1="244.8" x2="654.2" y2="238.3"/><line x1="646.3" y1="251.2" x2="642.4" y2="249.0"/><line x1="644.9" y1="260.8" x2="641.0" y2="266.7"/><line x1="653.2" y1="271.3" x2="649.7" y2="276.8"/><line x1="652.5" y1="262.1" x2="653.2" y2="271.3"/><line x1="653.2" y1="271.3" x2="659.8" y2="271.3"/><line x1="659.8" y1="271.3" x2="659.8" y2="280.2"/><line x1="659.8" y1="280.2" x2="663.2" y2="283.3"/><line x1="663.2" y1="283.3" x2="661.2" y2="290.3"/><line x1="661.2" y1="290.3" x2="658.0" y2="296.2"/><line x1="658.0" y1="296.2" x2="656.7" y2="290.3"/><line x1="656.7" y1="290.3" x2="659.8" y2="280.2"/><line x1="663.2" y1="283.3" x2="663.6" y2="275.7"/><line x1="661.2" y1="290.3" x2="663.4" y2="294.8"/><line x1="672.6" y1="259.1" x2="669.8" y2="271.6"/><line x1="669.8" y1="271.6" x2="668.2" y2="279.9"/><line x1="668.2" y1="279.9" x2="663.4" y2="294.8"/><line x1="620.0" y1="310.9" x2="628.3" y2="316.9"/><line x1="628.3" y1="316.9" x2="625.5" y2="326.2"/><line x1="625.5" y1="326.2" x2="615.1" y2="327.6"/><line x1="615.1" y1="327.6" x2="611.6" y2="317.9"/><line x1="611.6" y1="317.9" x2="620.0" y2="310.9"/><line x1="628.3" y1="316.9" x2="643.5" y2="310.3"/><line x1="611.6" y1="317.9" x2="605.8" y2="316.5"/><line x1="625.5" y1="326.2" x2="628.3" y2="331.7"/><line x1="603.1" y1="338.4" x2="601.3" y2="333.5"/><line x1="615.1" y1="327.6" x2="610.3" y2="337.0"/><line x1="610.3" y1="337.0" x2="603.1" y2="338.4"/><line x1="603.1" y1="338.4" x2="597.1" y2="347.9"/><line x1="597.1" y1="347.9" x2="599.5" y2="358.0"/><line x1="599.5" y1="358.0" x2="591.1" y2="364.5"/><line x1="591.1" y1="364.5" x2="584.6" y2="359.8"/><line x1="584.6" y1="359.8" x2="588.4" y2="349.3"/><line x1="588.4" y1="349.3" x2="597.1" y2="347.9"/><line x1="588.4" y1="349.3" x2="587.4" y2="345.2"/><line x1="584.6" y1="359.8" x2="580.5" y2="362.9"/><line x1="591.1" y1="364.5" x2="588.4" y2="371.9"/><line x1="649.7" y1="315.8" x2="656.0" y2="310.3"/><line x1="656.0" y1="310.3" x2="658.7" y2="317.2"/><line x1="658.7" y1="317.2" x2="653.9" y2="326.2"/><line x1="653.9" y1="326.2" x2="647.0" y2="325.5"/><line x1="647.0" y1="325.5" x2="649.7" y2="315.8"/><line x1="643.5" y1="310.3" x2="649.7" y2="315.8"/><line x1="643.5" y1="310.3" x2="647.0" y2="325.5"/><line x1="647.0" y1="325.5" x2="646.3" y2="329.6"/><line x1="659.4" y1="336.6" x2="662.9" y2="332.1"/><line x1="653.9" y1="326.2" x2="653.9" y2="336.3"/><line x1="653.9" y1="336.3" x2="659.4" y2="336.6"/><line x1="647.0" y1="325.5" x2="649.7" y2="333.1"/><line x1="649.7" y1="333.1" x2="653.5" y2="345.2"/><line x1="659.4" y1="336.6" x2="658.7" y2="347.0"/><line x1="658.7" y1="347.0" x2="652.9" y2="356.6"/><line x1="652.9" y1="356.6" x2="656.7" y2="364.3"/><line x1="656.7" y1="364.3" x2="663.6" y2="358.7"/><line x1="663.6" y1="358.7" x2="665.4" y2="348.8"/><line x1="665.4" y1="348.8" x2="658.7" y2="347.0"/><line x1="665.4" y1="348.8" x2="668.4" y2="344.2"/><line x1="663.6" y1="358.7" x2="666.4" y2="360.8"/><line x1="656.7" y1="364.3" x2="654.6" y2="371.2"/><line x1="663.4" y1="294.8" x2="661.1" y2="289.9"/><line x1="663.4" y1="294.8" x2="658.1" y2="296.2"/><line x1="663.4" y1="294.8" x2="665.7" y2="298.9"/><line x1="643.5" y1="310.3" x2="660.2" y2="305.9"/><line x1="660.2" y1="305.9" x2="665.7" y2="298.9"/><line x1="656.0" y1="310.3" x2="660.2" y2="305.9"/><line x1="673.3" y1="296.2" x2="677.8" y2="292.4"/><line x1="664.3" y1="306.8" x2="662.3" y2="310.7"/><line x1="680.9" y1="305.9" x2="675.4" y2="307.7"/><line x1="687.9" y1="298.9" x2="689.3" y2="295.5"/><line x1="706.6" y1="296.6" x2="712.4" y2="294.1"/><line x1="663.4" y1="294.8" x2="673.3" y2="296.2"/><line x1="673.3" y1="296.2" x2="673.3" y2="301.3"/><line x1="663.4" y1="294.8" x2="678.2" y2="300.3"/><line x1="678.2" y1="300.3" x2="680.9" y2="305.9"/><line x1="680.9" y1="305.9" x2="685.8" y2="312.8"/><line x1="673.3" y1="301.3" x2="682.3" y2="298.5"/><line x1="682.3" y1="298.5" x2="687.9" y2="298.9"/><line x1="687.9" y1="298.9" x2="701.4" y2="294.1"/><line x1="701.4" y1="294.1" x2="706.6" y2="296.6"/><line x1="706.6" y1="296.6" x2="701.0" y2="302.7"/><line x1="701.0" y1="302.7" x2="690.6" y2="305.9"/><line x1="690.6" y1="305.9" x2="687.9" y2="298.9"/><line x1="660.2" y1="305.9" x2="664.3" y2="306.8"/><line x1="663.4" y1="294.8" x2="673.3" y2="301.3"/></g><line x1="617.5" y1="277.8" x2="618.8" y2="292.1" stroke="#e000d8" stroke-width="1.90" stroke-dasharray="2.30 1.10"/><line x1="619.1" y1="292.3" x2="625.2" y2="291.6" stroke="#e000d8" stroke-width="1.90" stroke-dasharray="2.30 1.10"/><line x1="684.7" y1="313.5" x2="662.9" y2="314.9" stroke="#e000d8" stroke-width="1.90" stroke-dasharray="2.30 1.10"/><line x1="684.1" y1="314.9" x2="663.6" y2="330.1" stroke="#e000d8" stroke-width="1.90" stroke-dasharray="2.30 1.10"/><g fill="url(#gH)" stroke="#9a9a9a" stroke-width="0.2"><circle cx="605.0" cy="238.6" r="0.95"/><circle cx="593.6" cy="247.7" r="0.95"/><circle cx="600.6" cy="264.6" r="0.95"/><circle cx="616.9" cy="276.4" r="0.95"/><circle cx="645.9" cy="277.1" r="0.95"/><circle cx="625.5" cy="291.6" r="0.95"/><circle cx="654.2" cy="238.3" r="0.95"/><circle cx="642.4" cy="249.0" r="0.95"/><circle cx="641.0" cy="266.7" r="0.95"/><circle cx="649.7" cy="276.8" r="0.95"/><circle cx="663.6" cy="275.7" r="0.95"/><circle cx="605.8" cy="316.5" r="0.95"/><circle cx="628.3" cy="331.7" r="0.95"/><circle cx="601.3" cy="333.5" r="0.95"/><circle cx="587.4" cy="345.2" r="0.95"/><circle cx="580.5" cy="362.9" r="0.95"/><circle cx="588.4" cy="371.9" r="0.95"/><circle cx="646.3" cy="329.6" r="0.95"/><circle cx="662.9" cy="332.1" r="0.95"/><circle cx="668.4" cy="344.2" r="0.95"/><circle cx="666.4" cy="360.8" r="0.95"/><circle cx="654.6" cy="371.2" r="0.95"/><circle cx="677.8" cy="292.4" r="0.95"/><circle cx="662.3" cy="310.7" r="0.95"/><circle cx="675.4" cy="307.7" r="0.95"/><circle cx="689.3" cy="295.5" r="0.95"/><circle cx="712.4" cy="294.1" r="0.95"/></g><g fill="url(#gC)" stroke="#7d7d7d" stroke-width="0.25"><circle cx="606.1" cy="244.8" r="1.60"/><circle cx="613.7" cy="261.2" r="1.60"/><circle cx="603.6" cy="260.2" r="1.60"/><circle cx="599.9" cy="250.1" r="1.60"/><circle cx="619.3" cy="271.3" r="1.60"/><circle cx="642.8" cy="281.5" r="1.60"/><circle cx="631.7" cy="290.3" r="1.60"/><circle cx="629.6" cy="299.5" r="1.60"/><circle cx="653.2" cy="244.8" r="1.60"/><circle cx="652.5" cy="262.1" r="1.60"/><circle cx="644.9" cy="260.8" r="1.60"/><circle cx="646.3" cy="251.2" r="1.60"/><circle cx="653.2" cy="271.3" r="1.60"/><circle cx="663.2" cy="283.3" r="1.60"/><circle cx="656.7" cy="290.3" r="1.60"/><circle cx="669.8" cy="271.6" r="1.60"/><circle cx="625.5" cy="326.2" r="1.60"/><circle cx="611.6" cy="317.9" r="1.60"/><circle cx="603.1" cy="338.4" r="1.60"/><circle cx="597.1" cy="347.9" r="1.60"/><circle cx="591.1" cy="364.5" r="1.60"/><circle cx="584.6" cy="359.8" r="1.60"/><circle cx="588.4" cy="349.3" r="1.60"/><circle cx="658.7" cy="317.2" r="1.60"/><circle cx="659.4" cy="336.6" r="1.60"/><circle cx="649.7" cy="333.1" r="1.60"/><circle cx="658.7" cy="347.0" r="1.60"/><circle cx="656.7" cy="364.3" r="1.60"/><circle cx="663.6" cy="358.7" r="1.60"/><circle cx="665.4" cy="348.8" r="1.60"/><circle cx="673.3" cy="296.2" r="1.60"/><circle cx="664.3" cy="306.8" r="1.60"/><circle cx="680.9" cy="305.9" r="1.60"/><circle cx="687.9" cy="298.9" r="1.60"/><circle cx="701.0" cy="302.7" r="1.60"/><circle cx="706.6" cy="296.6" r="1.60"/></g><g fill="url(#gN)" stroke="#0c0ca0" stroke-width="0.25"><circle cx="628.3" cy="271.3" r="1.85"/><circle cx="633.8" cy="280.6" r="1.85"/><circle cx="647.2" cy="290.7" r="1.85"/><circle cx="640.0" cy="295.8" r="1.85"/><circle cx="638.2" cy="304.4" r="1.85"/><circle cx="659.8" cy="271.3" r="1.85"/><circle cx="659.8" cy="280.2" r="1.85"/><circle cx="661.2" cy="290.3" r="1.85"/><circle cx="658.0" cy="296.2" r="1.85"/><circle cx="668.2" cy="279.9" r="1.85"/><circle cx="620.0" cy="310.9" r="1.85"/><circle cx="628.3" cy="316.9" r="1.85"/><circle cx="615.1" cy="327.6" r="1.85"/><circle cx="610.3" cy="337.0" r="1.85"/><circle cx="649.7" cy="315.8" r="1.85"/><circle cx="656.0" cy="310.3" r="1.85"/><circle cx="653.9" cy="326.2" r="1.85"/><circle cx="647.0" cy="325.5" r="1.85"/><circle cx="653.9" cy="336.3" r="1.85"/><circle cx="661.1" cy="289.9" r="1.85"/><circle cx="658.1" cy="296.2" r="1.85"/><circle cx="665.7" cy="298.9" r="1.85"/><circle cx="660.2" cy="305.9" r="1.85"/><circle cx="673.3" cy="301.3" r="1.85"/><circle cx="678.2" cy="300.3" r="1.85"/><circle cx="682.3" cy="298.5" r="1.85"/></g><g fill="url(#gS)" stroke="#b5b500" stroke-width="0.25"><circle cx="617.6" cy="251.2" r="1.90"/><circle cx="659.1" cy="250.8" r="1.90"/><circle cx="672.6" cy="259.1" r="1.90"/><circle cx="599.5" cy="358.0" r="1.90"/><circle cx="653.5" cy="345.2" r="1.90"/><circle cx="652.9" cy="356.6" r="1.90"/><circle cx="690.6" cy="305.9" r="1.90"/><circle cx="701.4" cy="294.1" r="1.90"/><circle cx="685.8" cy="312.8" r="1.90"/></g><g fill="url(#gSo)" stroke="#8a8500" stroke-width="0.25"><circle cx="618.8" cy="293.0" r="1.90"/></g><g fill="url(#gFe)" stroke="#5e5600" stroke-width="0.25"><circle cx="643.5" cy="310.3" r="3.10"/><circle cx="663.4" cy="294.8" r="3.10"/></g>
<g stroke="#d0963e" stroke-width="0.85" stroke-linecap="round"><line x1="452.1" y1="503.7" x2="454.6" y2="489.4"/><line x1="454.6" y1="489.4" x2="459.7" y2="483.7"/><line x1="459.7" y1="483.7" x2="457.2" y2="476.6"/><line x1="457.2" y1="476.6" x2="449.0" y2="472.2"/><line x1="449.0" y1="472.2" x2="448.5" y2="463.3"/><line x1="448.5" y1="463.3" x2="445.9" y2="456.9"/><line x1="449.0" y1="472.2" x2="451.0" y2="482.5"/><line x1="451.0" y1="482.5" x2="454.6" y2="489.4"/><line x1="445.9" y1="456.9" x2="445.1" y2="448.4"/><line x1="445.1" y1="448.4" x2="440.0" y2="442.8"/><line x1="440.0" y1="442.8" x2="437.5" y2="450.0"/><line x1="437.5" y1="450.0" x2="440.0" y2="460.7"/><line x1="440.0" y1="460.7" x2="445.9" y2="456.9"/><line x1="452.1" y1="503.7" x2="454.1" y2="494.5"/><line x1="452.1" y1="503.7" x2="459.2" y2="489.4"/><line x1="445.9" y1="511.4" x2="440.0" y2="500.4"/><line x1="440.0" y1="500.4" x2="433.1" y2="498.1"/><line x1="433.1" y1="498.1" x2="426.5" y2="494.0"/><line x1="426.5" y1="494.0" x2="418.3" y2="490.1"/><line x1="418.3" y1="490.1" x2="410.6" y2="489.4"/><line x1="410.6" y1="489.4" x2="403.4" y2="485.0"/><line x1="403.4" y1="485.0" x2="401.6" y2="479.9"/><line x1="401.6" y1="479.9" x2="395.7" y2="477.4"/><line x1="395.7" y1="477.4" x2="389.6" y2="479.9"/><line x1="389.6" y1="479.9" x2="392.7" y2="484.3"/><line x1="392.7" y1="484.3" x2="403.4" y2="485.0"/><line x1="440.0" y1="500.4" x2="444.4" y2="497.1"/><line x1="444.4" y1="497.1" x2="437.5" y2="492.7"/><line x1="437.5" y1="492.7" x2="431.1" y2="494.0"/><line x1="431.1" y1="494.0" x2="426.5" y2="494.0"/><line x1="452.1" y1="503.7" x2="459.2" y2="499.6"/><line x1="459.2" y1="499.6" x2="467.4" y2="497.1"/><line x1="467.4" y1="497.1" x2="474.6" y2="495.3"/><line x1="474.6" y1="495.3" x2="479.2" y2="494.0"/><line x1="479.2" y1="494.0" x2="486.9" y2="490.9"/><line x1="486.9" y1="490.9" x2="495.6" y2="488.4"/><line x1="495.6" y1="488.4" x2="499.4" y2="484.3"/><line x1="499.4" y1="484.3" x2="504.8" y2="483.2"/><line x1="504.8" y1="483.2" x2="508.4" y2="482.2"/><line x1="467.4" y1="497.1" x2="470.7" y2="498.6"/><line x1="452.1" y1="503.7" x2="464.3" y2="507.3"/><line x1="464.3" y1="507.3" x2="472.0" y2="504.2"/><line x1="472.0" y1="504.2" x2="482.3" y2="499.1"/><line x1="445.9" y1="511.4" x2="433.6" y2="518.3"/><line x1="433.6" y1="518.3" x2="424.7" y2="515.7"/><line x1="424.7" y1="515.7" x2="415.2" y2="513.2"/><line x1="445.9" y1="511.4" x2="438.2" y2="507.3"/><line x1="438.2" y1="507.3" x2="430.6" y2="508.8"/><line x1="445.9" y1="511.4" x2="454.1" y2="519.6"/><line x1="454.1" y1="519.6" x2="460.5" y2="524.2"/><line x1="460.5" y1="524.2" x2="467.4" y2="529.3"/><line x1="445.9" y1="511.4" x2="448.5" y2="518.3"/><line x1="448.5" y1="518.3" x2="449.0" y2="526.0"/><line x1="449.0" y1="526.0" x2="449.5" y2="532.4"/><line x1="449.5" y1="532.4" x2="449.5" y2="540.6"/><line x1="449.5" y1="540.6" x2="448.5" y2="546.5"/><line x1="448.5" y1="546.5" x2="451.0" y2="552.3"/><line x1="451.0" y1="552.3" x2="451.0" y2="557.5"/><line x1="451.0" y1="557.5" x2="449.0" y2="562.6"/><line x1="449.0" y1="562.6" x2="451.0" y2="569.5"/><line x1="451.0" y1="569.5" x2="449.0" y2="572.3"/><line x1="445.9" y1="511.4" x2="444.4" y2="504.2"/><line x1="445.9" y1="511.4" x2="447.7" y2="497.1"/><line x1="445.9" y1="511.4" x2="438.2" y2="502.2"/><line x1="445.9" y1="511.4" x2="442.6" y2="506.3"/><line x1="452.1" y1="503.7" x2="457.2" y2="504.2"/><line x1="452.1" y1="503.7" x2="461.3" y2="501.2"/></g><g fill="url(#gC)" stroke="#7d7d7d" stroke-width="0.25"><circle cx="457.2" cy="476.6" r="1.41"/><circle cx="448.5" cy="463.3" r="1.41"/><circle cx="445.9" cy="456.9" r="1.41"/><circle cx="451.0" cy="482.5" r="1.41"/><circle cx="445.1" cy="448.4" r="1.41"/><circle cx="440.0" cy="442.8" r="1.41"/><circle cx="437.5" cy="450.0" r="1.41"/><circle cx="459.2" cy="489.4" r="1.41"/><circle cx="433.1" cy="498.1" r="1.41"/><circle cx="410.6" cy="489.4" r="1.41"/><circle cx="403.4" cy="485.0" r="1.41"/><circle cx="395.7" cy="477.4" r="1.41"/><circle cx="389.6" cy="479.9" r="1.41"/><circle cx="392.7" cy="484.3" r="1.41"/><circle cx="437.5" cy="492.7" r="1.41"/><circle cx="431.1" cy="494.0" r="1.41"/><circle cx="474.6" cy="495.3" r="1.41"/><circle cx="486.9" cy="490.9" r="1.41"/><circle cx="499.4" cy="484.3" r="1.41"/><circle cx="504.8" cy="483.2" r="1.41"/><circle cx="508.4" cy="482.2" r="1.41"/><circle cx="472.0" cy="504.2" r="1.41"/><circle cx="424.7" cy="515.7" r="1.41"/><circle cx="438.2" cy="507.3" r="1.41"/><circle cx="460.5" cy="524.2" r="1.41"/><circle cx="449.0" cy="526.0" r="1.41"/><circle cx="448.5" cy="546.5" r="1.41"/><circle cx="451.0" cy="552.3" r="1.41"/><circle cx="451.0" cy="569.5" r="1.41"/><circle cx="449.0" cy="572.3" r="1.41"/><circle cx="441.8" cy="496.0" r="1.41"/><circle cx="436.2" cy="497.1" r="1.41"/><circle cx="455.4" cy="506.8" r="1.41"/><circle cx="450.8" cy="525.2" r="1.41"/><circle cx="450.5" cy="545.7" r="1.41"/><circle cx="449.0" cy="553.4" r="1.41"/><circle cx="449.0" cy="568.2" r="1.41"/><circle cx="452.1" cy="571.3" r="1.41"/><circle cx="450.3" cy="462.8" r="1.41"/><circle cx="447.7" cy="455.6" r="1.41"/><circle cx="412.6" cy="487.8" r="1.41"/><circle cx="405.5" cy="483.7" r="1.41"/><circle cx="434.9" cy="495.3" r="1.41"/><circle cx="473.3" cy="497.1" r="1.41"/><circle cx="485.3" cy="493.0" r="1.41"/><circle cx="461.8" cy="522.7" r="1.41"/><circle cx="426.0" cy="517.5" r="1.41"/></g><g fill="url(#gN)" stroke="#0c0ca0" stroke-width="0.25"><circle cx="454.6" cy="489.4" r="1.63"/><circle cx="459.7" cy="483.7" r="1.63"/><circle cx="449.0" cy="472.2" r="1.63"/><circle cx="454.1" cy="494.5" r="1.63"/><circle cx="440.0" cy="500.4" r="1.63"/><circle cx="426.5" cy="494.0" r="1.63"/><circle cx="418.3" cy="490.1" r="1.63"/><circle cx="444.4" cy="497.1" r="1.63"/><circle cx="459.2" cy="499.6" r="1.63"/><circle cx="467.4" cy="497.1" r="1.63"/><circle cx="479.2" cy="494.0" r="1.63"/><circle cx="470.7" cy="498.6" r="1.63"/><circle cx="464.3" cy="507.3" r="1.63"/><circle cx="433.6" cy="518.3" r="1.63"/><circle cx="454.1" cy="519.6" r="1.63"/><circle cx="448.5" cy="518.3" r="1.63"/><circle cx="449.5" cy="532.4" r="1.63"/><circle cx="449.5" cy="540.6" r="1.63"/><circle cx="444.4" cy="504.2" r="1.63"/><circle cx="447.7" cy="497.1" r="1.63"/><circle cx="438.2" cy="502.2" r="1.63"/><circle cx="442.6" cy="506.3" r="1.63"/><circle cx="457.2" cy="504.2" r="1.63"/><circle cx="461.3" cy="501.2" r="1.63"/></g><g fill="url(#gS)" stroke="#b5b500" stroke-width="0.25"><circle cx="440.0" cy="460.7" r="1.67"/><circle cx="401.6" cy="479.9" r="1.67"/><circle cx="495.6" cy="488.4" r="1.67"/><circle cx="482.3" cy="499.1" r="1.67"/><circle cx="415.2" cy="513.2" r="1.67"/><circle cx="430.6" cy="508.8" r="1.67"/><circle cx="467.4" cy="529.3" r="1.67"/><circle cx="451.0" cy="557.5" r="1.67"/><circle cx="449.0" cy="562.6" r="1.67"/></g><g fill="url(#gFe)" stroke="#5e5600" stroke-width="0.25"><circle cx="452.1" cy="503.7" r="2.73"/><circle cx="445.9" cy="511.4" r="2.73"/></g>
<g stroke="#d0963e" stroke-width="0.85" stroke-linecap="round"><line x1="619.5" y1="505.5" x2="622.0" y2="491.2"/><line x1="622.0" y1="491.2" x2="627.1" y2="485.5"/><line x1="627.1" y1="485.5" x2="624.6" y2="478.4"/><line x1="624.6" y1="478.4" x2="616.4" y2="474.0"/><line x1="616.4" y1="474.0" x2="615.9" y2="465.1"/><line x1="615.9" y1="465.1" x2="613.3" y2="458.7"/><line x1="616.4" y1="474.0" x2="618.4" y2="484.3"/><line x1="618.4" y1="484.3" x2="622.0" y2="491.2"/><line x1="613.3" y1="458.7" x2="612.5" y2="450.2"/><line x1="612.5" y1="450.2" x2="607.4" y2="444.6"/><line x1="607.4" y1="444.6" x2="604.9" y2="451.8"/><line x1="604.9" y1="451.8" x2="607.4" y2="462.5"/><line x1="607.4" y1="462.5" x2="613.3" y2="458.7"/><line x1="619.5" y1="505.5" x2="621.5" y2="496.3"/><line x1="619.5" y1="505.5" x2="626.6" y2="491.2"/><line x1="613.3" y1="513.2" x2="607.4" y2="502.2"/><line x1="607.4" y1="502.2" x2="600.5" y2="499.9"/><line x1="600.5" y1="499.9" x2="593.9" y2="495.8"/><line x1="593.9" y1="495.8" x2="585.7" y2="491.9"/><line x1="585.7" y1="491.9" x2="578.0" y2="491.2"/><line x1="578.0" y1="491.2" x2="570.8" y2="486.8"/><line x1="570.8" y1="486.8" x2="569.0" y2="481.7"/><line x1="569.0" y1="481.7" x2="563.1" y2="479.2"/><line x1="563.1" y1="479.2" x2="557.0" y2="481.7"/><line x1="557.0" y1="481.7" x2="560.1" y2="486.1"/><line x1="560.1" y1="486.1" x2="570.8" y2="486.8"/><line x1="607.4" y1="502.2" x2="611.8" y2="498.9"/><line x1="611.8" y1="498.9" x2="604.9" y2="494.5"/><line x1="604.9" y1="494.5" x2="598.5" y2="495.8"/><line x1="598.5" y1="495.8" x2="593.9" y2="495.8"/><line x1="619.5" y1="505.5" x2="626.6" y2="501.4"/><line x1="626.6" y1="501.4" x2="634.8" y2="498.9"/><line x1="634.8" y1="498.9" x2="642.0" y2="497.1"/><line x1="642.0" y1="497.1" x2="646.6" y2="495.8"/><line x1="646.6" y1="495.8" x2="654.3" y2="492.7"/><line x1="654.3" y1="492.7" x2="663.0" y2="490.2"/><line x1="663.0" y1="490.2" x2="666.8" y2="486.1"/><line x1="666.8" y1="486.1" x2="672.2" y2="485.0"/><line x1="672.2" y1="485.0" x2="675.8" y2="484.0"/><line x1="634.8" y1="498.9" x2="638.1" y2="500.4"/><line x1="619.5" y1="505.5" x2="631.7" y2="509.1"/><line x1="631.7" y1="509.1" x2="639.4" y2="506.0"/><line x1="639.4" y1="506.0" x2="649.7" y2="500.9"/><line x1="613.3" y1="513.2" x2="601.0" y2="520.1"/><line x1="601.0" y1="520.1" x2="592.1" y2="517.5"/><line x1="592.1" y1="517.5" x2="582.6" y2="515.0"/><line x1="613.3" y1="513.2" x2="605.6" y2="509.1"/><line x1="605.6" y1="509.1" x2="598.0" y2="510.6"/><line x1="613.3" y1="513.2" x2="621.5" y2="521.4"/><line x1="621.5" y1="521.4" x2="627.9" y2="526.0"/><line x1="627.9" y1="526.0" x2="634.8" y2="531.1"/><line x1="613.3" y1="513.2" x2="615.9" y2="520.1"/><line x1="615.9" y1="520.1" x2="616.4" y2="527.8"/><line x1="616.4" y1="527.8" x2="616.9" y2="534.2"/><line x1="616.9" y1="534.2" x2="616.9" y2="542.4"/><line x1="616.9" y1="542.4" x2="615.9" y2="548.3"/><line x1="615.9" y1="548.3" x2="618.4" y2="554.1"/><line x1="618.4" y1="554.1" x2="618.4" y2="559.3"/><line x1="618.4" y1="559.3" x2="616.4" y2="564.4"/><line x1="616.4" y1="564.4" x2="618.4" y2="571.3"/><line x1="618.4" y1="571.3" x2="616.4" y2="574.1"/><line x1="613.3" y1="513.2" x2="611.8" y2="506.0"/><line x1="613.3" y1="513.2" x2="615.1" y2="498.9"/><line x1="613.3" y1="513.2" x2="605.6" y2="504.0"/><line x1="613.3" y1="513.2" x2="610.0" y2="508.1"/><line x1="619.5" y1="505.5" x2="624.6" y2="506.0"/><line x1="619.5" y1="505.5" x2="628.7" y2="503.0"/></g><g fill="url(#gC)" stroke="#7d7d7d" stroke-width="0.25"><circle cx="624.6" cy="478.4" r="1.41"/><circle cx="615.9" cy="465.1" r="1.41"/><circle cx="613.3" cy="458.7" r="1.41"/><circle cx="618.4" cy="484.3" r="1.41"/><circle cx="612.5" cy="450.2" r="1.41"/><circle cx="607.4" cy="444.6" r="1.41"/><circle cx="604.9" cy="451.8" r="1.41"/><circle cx="626.6" cy="491.2" r="1.41"/><circle cx="600.5" cy="499.9" r="1.41"/><circle cx="578.0" cy="491.2" r="1.41"/><circle cx="570.8" cy="486.8" r="1.41"/><circle cx="563.1" cy="479.2" r="1.41"/><circle cx="557.0" cy="481.7" r="1.41"/><circle cx="560.1" cy="486.1" r="1.41"/><circle cx="604.9" cy="494.5" r="1.41"/><circle cx="598.5" cy="495.8" r="1.41"/><circle cx="642.0" cy="497.1" r="1.41"/><circle cx="654.3" cy="492.7" r="1.41"/><circle cx="666.8" cy="486.1" r="1.41"/><circle cx="672.2" cy="485.0" r="1.41"/><circle cx="675.8" cy="484.0" r="1.41"/><circle cx="639.4" cy="506.0" r="1.41"/><circle cx="592.1" cy="517.5" r="1.41"/><circle cx="605.6" cy="509.1" r="1.41"/><circle cx="627.9" cy="526.0" r="1.41"/><circle cx="616.4" cy="527.8" r="1.41"/><circle cx="615.9" cy="548.3" r="1.41"/><circle cx="618.4" cy="554.1" r="1.41"/><circle cx="618.4" cy="571.3" r="1.41"/><circle cx="616.4" cy="574.1" r="1.41"/><circle cx="609.2" cy="497.8" r="1.41"/><circle cx="603.6" cy="498.9" r="1.41"/><circle cx="622.8" cy="508.6" r="1.41"/><circle cx="618.2" cy="527.0" r="1.41"/><circle cx="617.9" cy="547.5" r="1.41"/><circle cx="616.4" cy="555.2" r="1.41"/><circle cx="616.4" cy="570.0" r="1.41"/><circle cx="619.5" cy="573.1" r="1.41"/><circle cx="617.7" cy="464.6" r="1.41"/><circle cx="615.1" cy="457.4" r="1.41"/><circle cx="580.0" cy="489.6" r="1.41"/><circle cx="572.9" cy="485.5" r="1.41"/><circle cx="602.3" cy="497.1" r="1.41"/><circle cx="640.7" cy="498.9" r="1.41"/><circle cx="652.7" cy="494.8" r="1.41"/><circle cx="629.2" cy="524.5" r="1.41"/><circle cx="593.4" cy="519.3" r="1.41"/></g><g fill="url(#gN)" stroke="#0c0ca0" stroke-width="0.25"><circle cx="622.0" cy="491.2" r="1.63"/><circle cx="627.1" cy="485.5" r="1.63"/><circle cx="616.4" cy="474.0" r="1.63"/><circle cx="621.5" cy="496.3" r="1.63"/><circle cx="607.4" cy="502.2" r="1.63"/><circle cx="593.9" cy="495.8" r="1.63"/><circle cx="585.7" cy="491.9" r="1.63"/><circle cx="611.8" cy="498.9" r="1.63"/><circle cx="626.6" cy="501.4" r="1.63"/><circle cx="634.8" cy="498.9" r="1.63"/><circle cx="646.6" cy="495.8" r="1.63"/><circle cx="638.1" cy="500.4" r="1.63"/><circle cx="631.7" cy="509.1" r="1.63"/><circle cx="601.0" cy="520.1" r="1.63"/><circle cx="621.5" cy="521.4" r="1.63"/><circle cx="615.9" cy="520.1" r="1.63"/><circle cx="616.9" cy="534.2" r="1.63"/><circle cx="616.9" cy="542.4" r="1.63"/><circle cx="611.8" cy="506.0" r="1.63"/><circle cx="615.1" cy="498.9" r="1.63"/><circle cx="605.6" cy="504.0" r="1.63"/><circle cx="610.0" cy="508.1" r="1.63"/><circle cx="624.6" cy="506.0" r="1.63"/><circle cx="628.7" cy="503.0" r="1.63"/></g><g fill="url(#gS)" stroke="#b5b500" stroke-width="0.25"><circle cx="607.4" cy="462.5" r="1.67"/><circle cx="569.0" cy="481.7" r="1.67"/><circle cx="663.0" cy="490.2" r="1.67"/><circle cx="649.7" cy="500.9" r="1.67"/><circle cx="582.6" cy="515.0" r="1.67"/><circle cx="598.0" cy="510.6" r="1.67"/><circle cx="634.8" cy="531.1" r="1.67"/><circle cx="618.4" cy="559.3" r="1.67"/><circle cx="616.4" cy="564.4" r="1.67"/></g><g fill="url(#gFe)" stroke="#5e5600" stroke-width="0.25"><circle cx="619.5" cy="505.5" r="2.73"/><circle cx="613.3" cy="513.2" r="2.73"/></g>
<g stroke="#d0963e" stroke-width="0.85" stroke-linecap="round"><line x1="534.2" y1="441.4" x2="531.7" y2="432.5"/><line x1="531.7" y1="432.5" x2="530.4" y2="427.4"/><line x1="530.4" y1="427.4" x2="531.2" y2="420.4"/><line x1="531.2" y1="420.4" x2="530.4" y2="412.0"/><line x1="530.4" y1="412.0" x2="529.6" y2="406.1"/><line x1="529.6" y1="406.1" x2="531.2" y2="401.0"/><line x1="531.2" y1="401.0" x2="529.1" y2="395.4"/><line x1="529.1" y1="395.4" x2="531.7" y2="390.2"/><line x1="531.7" y1="390.2" x2="529.6" y2="385.1"/><line x1="529.6" y1="385.1" x2="530.4" y2="381.3"/><line x1="534.2" y1="441.4" x2="525.3" y2="433.2"/><line x1="525.3" y1="433.2" x2="518.9" y2="427.9"/><line x1="518.9" y1="427.9" x2="513.2" y2="423.5"/><line x1="534.2" y1="441.4" x2="545.7" y2="433.7"/><line x1="545.7" y1="433.7" x2="555.2" y2="436.8"/><line x1="555.2" y1="436.8" x2="564.9" y2="439.4"/><line x1="528.6" y1="449.1" x2="536.8" y2="447.1"/><line x1="536.8" y1="447.1" x2="543.2" y2="446.0"/><line x1="543.2" y1="446.0" x2="549.1" y2="442.7"/><line x1="528.6" y1="449.1" x2="521.4" y2="449.1"/><line x1="521.4" y1="449.1" x2="516.3" y2="445.3"/><line x1="516.3" y1="445.3" x2="508.1" y2="448.6"/><line x1="508.1" y1="448.6" x2="502.2" y2="450.4"/><line x1="502.2" y1="450.4" x2="498.4" y2="453.7"/><line x1="528.6" y1="449.1" x2="520.1" y2="452.9"/><line x1="520.1" y1="452.9" x2="513.2" y2="455.5"/><line x1="513.2" y1="455.5" x2="508.6" y2="456.8"/><line x1="508.6" y1="456.8" x2="501.0" y2="458.1"/><line x1="501.0" y1="458.1" x2="494.6" y2="461.4"/><line x1="494.6" y1="461.4" x2="485.1" y2="463.2"/><line x1="485.1" y1="463.2" x2="479.2" y2="467.0"/><line x1="479.2" y1="467.0" x2="472.8" y2="470.1"/><line x1="472.8" y1="470.1" x2="475.9" y2="468.3"/><line x1="528.6" y1="449.1" x2="536.3" y2="452.9"/><line x1="536.3" y1="452.9" x2="542.4" y2="452.9"/><line x1="542.4" y1="452.9" x2="549.1" y2="455.5"/><line x1="549.1" y1="455.5" x2="554.2" y2="458.1"/><line x1="554.2" y1="458.1" x2="562.4" y2="462.4"/><line x1="562.4" y1="462.4" x2="568.8" y2="463.2"/><line x1="568.8" y1="463.2" x2="575.2" y2="467.0"/><line x1="575.2" y1="467.0" x2="578.2" y2="471.6"/><line x1="578.2" y1="471.6" x2="585.4" y2="470.1"/><line x1="585.4" y1="470.1" x2="590.5" y2="473.4"/><line x1="590.5" y1="473.4" x2="586.7" y2="476.0"/><line x1="542.4" y1="452.9" x2="541.9" y2="456.8"/><line x1="528.6" y1="449.1" x2="525.3" y2="461.9"/><line x1="525.3" y1="461.9" x2="522.2" y2="465.5"/><line x1="522.2" y1="465.5" x2="520.9" y2="469.6"/><line x1="520.9" y1="469.6" x2="521.9" y2="476.7"/><line x1="521.9" y1="476.7" x2="527.1" y2="475.2"/><line x1="527.1" y1="475.2" x2="525.3" y2="461.9"/><line x1="527.1" y1="475.2" x2="531.2" y2="479.8"/><line x1="531.2" y1="479.8" x2="532.2" y2="488.8"/><line x1="532.2" y1="488.8" x2="535.0" y2="496.5"/><line x1="535.0" y1="496.5" x2="539.3" y2="492.1"/><line x1="539.3" y1="492.1" x2="543.2" y2="502.9"/><line x1="543.2" y1="502.9" x2="540.6" y2="508.7"/><line x1="540.6" y1="508.7" x2="536.3" y2="504.6"/><line x1="536.3" y1="504.6" x2="535.0" y2="496.5"/><line x1="528.6" y1="449.1" x2="524.0" y2="458.1"/><line x1="534.2" y1="441.4" x2="526.0" y2="433.7"/><line x1="534.2" y1="441.4" x2="536.8" y2="444.0"/><line x1="528.6" y1="449.1" x2="539.3" y2="450.4"/><line x1="528.6" y1="449.1" x2="532.9" y2="456.3"/><line x1="534.2" y1="441.4" x2="522.7" y2="445.3"/></g><line x1="481.0" y1="468.3" x2="498.4" y2="485.5" stroke="#f01818" stroke-width="1.50" stroke-dasharray="2.80 1.40"/><line x1="584.1" y1="472.1" x2="563.7" y2="483.7" stroke="#f01818" stroke-width="1.50" stroke-dasharray="2.80 1.40"/><g fill="url(#gC)" stroke="#7d7d7d" stroke-width="0.25"><circle cx="530.4" cy="427.4" r="1.41"/><circle cx="529.6" cy="406.1" r="1.41"/><circle cx="531.2" cy="401.0" r="1.41"/><circle cx="529.6" cy="385.1" r="1.41"/><circle cx="530.4" cy="381.3" r="1.41"/><circle cx="518.9" cy="427.9" r="1.41"/><circle cx="555.2" cy="436.8" r="1.41"/><circle cx="543.2" cy="446.0" r="1.41"/><circle cx="508.1" cy="448.6" r="1.41"/><circle cx="502.2" cy="450.4" r="1.41"/><circle cx="501.0" cy="458.1" r="1.41"/><circle cx="494.6" cy="461.4" r="1.41"/><circle cx="479.2" cy="467.0" r="1.41"/><circle cx="472.8" cy="470.1" r="1.41"/><circle cx="475.9" cy="468.3" r="1.41"/><circle cx="549.1" cy="455.5" r="1.41"/><circle cx="568.8" cy="463.2" r="1.41"/><circle cx="575.2" cy="467.0" r="1.41"/><circle cx="585.4" cy="470.1" r="1.41"/><circle cx="590.5" cy="473.4" r="1.41"/><circle cx="586.7" cy="476.0" r="1.41"/><circle cx="522.2" cy="465.5" r="1.41"/><circle cx="521.9" cy="476.7" r="1.41"/><circle cx="532.2" cy="488.8" r="1.41"/><circle cx="535.0" cy="496.5" r="1.41"/><circle cx="543.2" cy="502.9" r="1.41"/><circle cx="540.6" cy="508.7" r="1.41"/><circle cx="536.3" cy="504.6" r="1.41"/><circle cx="532.2" cy="426.1" r="1.41"/><circle cx="531.7" cy="405.6" r="1.41"/><circle cx="529.1" cy="401.8" r="1.41"/><circle cx="531.7" cy="385.6" r="1.41"/><circle cx="528.6" cy="382.0" r="1.41"/><circle cx="520.4" cy="426.1" r="1.41"/><circle cx="553.4" cy="435.0" r="1.41"/><circle cx="544.5" cy="444.5" r="1.41"/><circle cx="509.9" cy="447.1" r="1.41"/><circle cx="503.5" cy="448.6" r="1.41"/><circle cx="503.0" cy="456.8" r="1.41"/><circle cx="496.3" cy="459.9" r="1.41"/><circle cx="550.9" cy="453.7" r="1.41"/><circle cx="570.6" cy="461.9" r="1.41"/><circle cx="576.5" cy="465.7" r="1.41"/><circle cx="534.2" cy="487.5" r="1.41"/><circle cx="533.7" cy="497.7" r="1.41"/></g><g fill="url(#gN)" stroke="#0c0ca0" stroke-width="0.25"><circle cx="531.7" cy="432.5" r="1.63"/><circle cx="531.2" cy="420.4" r="1.63"/><circle cx="530.4" cy="412.0" r="1.63"/><circle cx="525.3" cy="433.2" r="1.63"/><circle cx="545.7" cy="433.7" r="1.63"/><circle cx="536.8" cy="447.1" r="1.63"/><circle cx="521.4" cy="449.1" r="1.63"/><circle cx="516.3" cy="445.3" r="1.63"/><circle cx="520.1" cy="452.9" r="1.63"/><circle cx="513.2" cy="455.5" r="1.63"/><circle cx="508.6" cy="456.8" r="1.63"/><circle cx="536.3" cy="452.9" r="1.63"/><circle cx="542.4" cy="452.9" r="1.63"/><circle cx="554.2" cy="458.1" r="1.63"/><circle cx="562.4" cy="462.4" r="1.63"/><circle cx="541.9" cy="456.8" r="1.63"/><circle cx="525.3" cy="461.9" r="1.63"/><circle cx="520.9" cy="469.6" r="1.63"/><circle cx="527.1" cy="475.2" r="1.63"/><circle cx="531.2" cy="479.8" r="1.63"/><circle cx="526.0" cy="433.7" r="1.63"/><circle cx="536.8" cy="444.0" r="1.63"/><circle cx="539.3" cy="450.4" r="1.63"/><circle cx="532.9" cy="456.3" r="1.63"/><circle cx="522.7" cy="445.3" r="1.63"/></g><g fill="url(#gS)" stroke="#b5b500" stroke-width="0.25"><circle cx="529.1" cy="395.4" r="1.67"/><circle cx="531.7" cy="390.2" r="1.67"/><circle cx="513.2" cy="423.5" r="1.67"/><circle cx="564.9" cy="439.4" r="1.67"/><circle cx="549.1" cy="442.7" r="1.67"/><circle cx="498.4" cy="453.7" r="1.67"/><circle cx="485.1" cy="463.2" r="1.67"/><circle cx="578.2" cy="471.6" r="1.67"/><circle cx="539.3" cy="492.1" r="1.67"/><circle cx="524.0" cy="458.1" r="1.67"/></g><g fill="url(#gFe)" stroke="#5e5600" stroke-width="0.25"><circle cx="534.2" cy="441.4" r="2.73"/><circle cx="528.6" cy="449.1" r="2.73"/></g>
<g stroke="#222" stroke-width="0.7" fill="#111"><line x1="400.5" y1="408.8" x2="400.5" y2="397"/><polygon points="398.5,398 402.5,398 400.5,393.5" stroke="none"/><line x1="400.5" y1="408.8" x2="409" y2="406.3"/><polygon points="408,404 412.6,405.2 409.4,408.6" stroke="none"/><line x1="400.5" y1="408.8" x2="405.5" y2="411.6"/><polygon points="405.2,409.7 409.2,412.8 404.3,413.4" stroke="none"/></g>
<text x="400.6" y="391" font-family="Liberation Sans, sans-serif" font-weight="bold" fill="#111" font-size="7" text-anchor="middle">b</text>
<text x="417" y="405.8" font-family="Liberation Sans, sans-serif" font-weight="bold" fill="#111" font-size="7" text-anchor="middle">a</text>
<text x="412.8" y="415" font-family="Liberation Sans, sans-serif" font-weight="bold" fill="#111" font-size="7" text-anchor="middle">c</text>
</svg>

</body>
</html>
